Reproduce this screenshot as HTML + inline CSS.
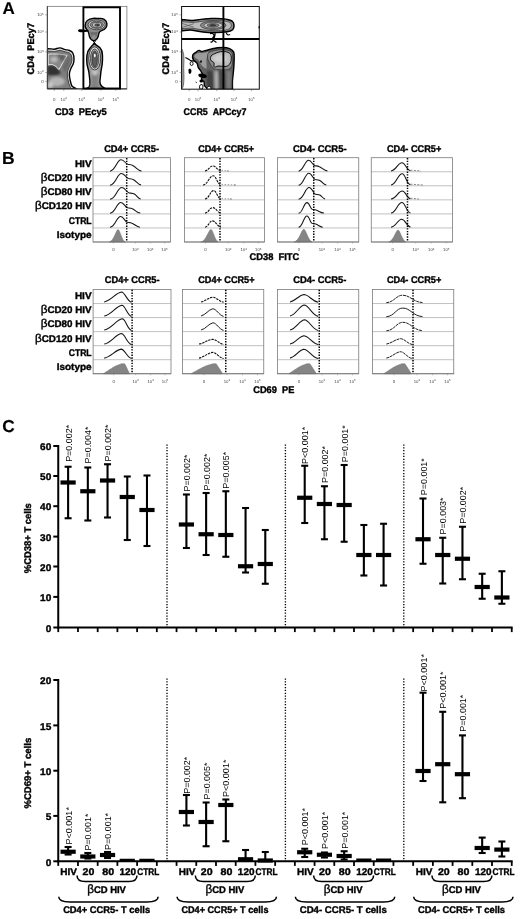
<!DOCTYPE html>
<html><head><meta charset="utf-8"><title>Figure</title>
<style>
html,body{margin:0;padding:0;background:#fff;}
svg{display:block;font-family:"Liberation Sans",sans-serif;text-rendering:geometricPrecision;}
</style></head><body>
<svg width="520" height="919" viewBox="0 0 520 919">
<defs>
<clipPath id="clip1"><rect x="47.3" y="6.3" width="79.6" height="82.7"/></clipPath>
<clipPath id="clip2"><rect x="181.6" y="6.5" width="77.7" height="82.8"/></clipPath>
<filter id="blurA" x="-5%" y="-5%" width="110%" height="110%"><feGaussianBlur stdDeviation="0.45"/></filter>
<filter id="blurB" x="-20%" y="-20%" width="140%" height="140%"><feGaussianBlur stdDeviation="0.9"/></filter>
<filter id="soft" x="0" y="0" width="100%" height="100%"><feGaussianBlur stdDeviation="0.3"/></filter>
</defs>
<rect width="520" height="919" fill="#fff"/>
<g filter="url(#soft)">
<text x="2.40" y="14.10" font-size="17" font-weight="bold" stroke="#000" stroke-width="0.15">A</text>
<text x="2.10" y="164.20" font-size="17.5" font-weight="bold" stroke="#000" stroke-width="0.15">B</text>
<text x="2.20" y="432.40" font-size="17.3" font-weight="bold" stroke="#000" stroke-width="0.15">C</text>
<g id="panelA">
<g clip-path="url(#clip1)"><g filter="url(#blurA)">
<path d="M47.3,48.6 C50,48.4 52,49.4 54.2,49.2 C56.4,49 58,47.8 60,47.9 C62,48 63.4,49.2 65.2,49.6 C66.8,50 68,49.9 69.4,50.5 C71,51.2 72.2,51.8 72.8,53 C73.8,55 74,57 74,58.9 C74,60.8 73.8,62.4 73.2,64 C72.6,65.6 71.6,66.8 71,68.2 C70.2,70 69.5,71.6 69.4,73.3 C69.3,75.2 69.5,76.8 69.8,78.4 C70.1,80.2 70.5,81.8 71,83.5 C71.3,84.5 71.5,85.3 71.9,86 C72.8,87 74,87.6 75.3,88.1 L76.4,88.9 L47.3,88.9 Z" fill="#e2e2e2" stroke="#000" stroke-width="1.4"/>
<path d="M47.3,51 C50,50.8 52,51.6 54.2,51.5 C56.4,51.4 58,50.3 60,50.3 C62,50.4 63.4,51.4 65.2,51.8 C66.8,52.2 68,52.2 69,52.7 C70.2,53.4 70.8,54 71.2,55 C71.8,56.6 72,57.8 72,59 C72,60.6 71.7,62 71.2,63.4 C70.6,65 69.6,66.2 69,67.6 C68.2,69.4 67.5,71.2 67.4,73.2 C67.3,75.2 67.5,76.8 67.8,78.6 C68.1,80.4 68.5,82 69,83.8 C69.5,85.6 70.4,87.2 71.4,88.9 L47.3,88.9 Z" fill="#7e7e7e" stroke="#1a1a1a" stroke-width="0.7"/>
<g filter="url(#blurB)">
<path d="M47.3,66 L52.5,65 L56,67 L58.8,70 L61,73 C58,76 53,75.4 47.3,75Z" fill="#333"/>
<ellipse cx="57" cy="81.6" rx="8" ry="4.6" fill="#b4b4b4"/>
<ellipse cx="50.4" cy="85" rx="3" ry="3" fill="#c6c6c6"/>
<path d="M63,66 C65,63 67.6,58 69.6,55 C70.6,58 70,62 68.6,65 C67.4,68 66,70 65,73 C64,71 63,68 63,66Z" fill="#676767"/>
</g>
<path d="M48.2,54.2 C54,53.6 61,54 67,55.4 C65.4,58 63.6,61 62,64 C61,66 60,68 58.9,69.6 C58,68.4 57,67.2 55.8,66.4 C54.6,65.6 53.6,64.8 52.4,64.6 C51,64.4 49.6,64.8 48.2,64.9Z" fill="#878787" stroke="#f2f2f2" stroke-width="0.9"/>
<g filter="url(#blurB)">
<ellipse cx="54" cy="59.4" rx="3.6" ry="2.8" fill="#b8b8b8"/>
<path d="M57,55 C60,54.6 64,55 66,56 C65,58 63.6,60 62.4,62 C61,60 59,57 57,55Z" fill="#5e5e5e"/>
</g>
<path d="M85.1,25.5 C85.1,21.5 88.6,18.9 93,18.4 C95.6,18.1 97.4,18.6 99.4,18.4 C102.6,18.1 106.4,19.6 106.9,23.6 C107.3,27 104.6,29.6 101.6,30.7 C99.8,31.4 99.2,32 99,33 C98.6,35.4 98.2,37.4 97,38.8 C96,40 95,40.7 93.8,40.7 C92.4,40.7 91.4,40 90.4,38.6 C89.4,37.2 89,35 88.7,33 C88.5,31.8 87.8,30.8 86.8,29.6 C85.8,28.4 85.1,27.2 85.1,25.5Z" fill="#8e8e8e" stroke="#000" stroke-width="1.4"/>
<path d="M90.4,31.6 C92,32.6 96,32.6 97.6,31.6 C97.4,34 96.8,36.6 95.8,38 C95,39 92.8,39 92,38 C91,36.6 90.6,34 90.4,31.6Z" fill="#6a6a6a" stroke="none"/>
<ellipse cx="93.9" cy="37" rx="1.7" ry="1.8" fill="#b6b6b6" filter="url(#blurB)"/>
<ellipse cx="96.6" cy="24.8" rx="8.6" ry="4.9" fill="#c6c6c6" stroke="#222" stroke-width="0.7"/>
<ellipse cx="96.8" cy="24.8" rx="6.6" ry="3.6" fill="#8a8a8a" stroke="#222" stroke-width="0.6"/>
<ellipse cx="97" cy="24.9" rx="4.6" ry="2.4" fill="#c8c8c8" stroke="#222" stroke-width="0.55"/>
<ellipse cx="97.2" cy="25" rx="2.6" ry="1.2" fill="#6a6a6a" stroke="#111" stroke-width="0.45"/>
<ellipse cx="97.6" cy="25" rx="1.1" ry="0.5" fill="#111"/>
<path d="M78.0,30.7 C78.0,29.3 80,29.2 82,29.4 C84,29.6 86,29.8 88.4,30 L88.4,31.6 C86,31.9 84,32.2 82,32.2 C80,32.2 78.0,32.1 78.0,30.7Z" fill="#000"/>
<path d="M92.8,40.6 L95.8,44.2 M95.8,40.6 L92.8,44.2" stroke="#000" stroke-width="1" fill="none"/>
<path d="M94.3,43.7 C96,44.8 98.6,46.4 100.2,48 C102,50 102.5,53 102.5,55.5 C102.6,58.6 102.6,61.4 102.2,64.2 C101.8,67.2 101,70 100.8,72.9 C100.6,76 100,79 99.9,81.6 C99.8,83.6 100.6,85.6 102.4,86.8 C103.6,87.6 104.8,88.2 105.6,88.9 L86.4,88.9 C87.2,88.2 88.4,87.6 89.2,86.6 C90.2,85.2 90,83.4 89.9,81.6 C89.8,78.8 89.3,75.8 89,72.9 C88.7,70 87.4,67 87,64.2 C86.6,61.4 86.7,58.4 86.9,55.5 C87.1,52.6 88.2,50 89.9,48.2 C91.2,46.6 92.8,44.8 94.3,43.7Z" fill="#9c9c9c" stroke="#000" stroke-width="1.4"/>
<path d="M91.4,74 C91.8,78 91.8,82 91.2,85 C90.6,87 90,88 89.6,88.9 L101.2,88.9 C100.4,88 99,87 98.4,85 C97.8,82 98,78 98.6,74 Z" fill="#828282" stroke="none" filter="url(#blurB)"/>
<ellipse cx="94.9" cy="72" rx="2.6" ry="3.4" fill="#c4c4c4" filter="url(#blurB)"/>
<ellipse cx="94.7" cy="58.4" rx="5.9" ry="11.6" fill="#e0e0e0" stroke="#111" stroke-width="0.75"/>
<ellipse cx="94.7" cy="58.6" rx="4.2" ry="9.6" fill="#a8a8a8" stroke="#111" stroke-width="0.65"/>
<ellipse cx="94.7" cy="59" rx="2.7" ry="8" fill="#5c5c5c" stroke="#111" stroke-width="0.5"/>
<ellipse cx="94.8" cy="55.6" rx="0.9" ry="1.8" fill="#fff"/>
</g></g>
<rect x="47.3" y="6.3" width="79.60" height="82.60" fill="none" stroke="#666" stroke-width="0.7"/>
<line x1="47.3" y1="88.9" x2="126.9" y2="88.9" stroke="#222" stroke-width="1"/>
<line x1="47.3" y1="6.3" x2="47.3" y2="88.9" stroke="#333" stroke-width="0.9"/>
<rect x="83.4" y="7.3" width="36.6" height="81.2" fill="none" stroke="#000" stroke-width="1.9"/>
<line x1="54.3" y1="88.9" x2="54.3" y2="90.9" stroke="#555" stroke-width="0.5"/>
<line x1="63.8" y1="88.9" x2="63.8" y2="90.9" stroke="#555" stroke-width="0.5"/>
<line x1="81.8" y1="88.9" x2="81.8" y2="90.9" stroke="#555" stroke-width="0.5"/>
<line x1="100.9" y1="88.9" x2="100.9" y2="90.9" stroke="#555" stroke-width="0.5"/>
<line x1="115.7" y1="88.9" x2="115.7" y2="90.9" stroke="#555" stroke-width="0.5"/>
<line x1="45.3" y1="14.8" x2="47.3" y2="14.8" stroke="#555" stroke-width="0.5"/>
<line x1="45.3" y1="32" x2="47.3" y2="32" stroke="#555" stroke-width="0.5"/>
<line x1="45.3" y1="51.8" x2="47.3" y2="51.8" stroke="#555" stroke-width="0.5"/>
<line x1="45.3" y1="72.5" x2="47.3" y2="72.5" stroke="#555" stroke-width="0.5"/>
<line x1="45.3" y1="81.4" x2="47.3" y2="81.4" stroke="#555" stroke-width="0.5"/>
<text x="54.30" y="100.60" font-size="4.4" text-anchor="middle" fill="#4a4a4a">0</text>
<text x="63.80" y="100.60" font-size="4.3" text-anchor="middle" fill="#4a4a4a">10<tspan dy="-1.5" font-size="3">2</tspan></text>
<text x="81.80" y="100.60" font-size="4.3" text-anchor="middle" fill="#4a4a4a">10<tspan dy="-1.5" font-size="3">3</tspan></text>
<text x="100.90" y="100.60" font-size="4.3" text-anchor="middle" fill="#4a4a4a">10<tspan dy="-1.5" font-size="3">4</tspan></text>
<text x="115.70" y="100.60" font-size="4.3" text-anchor="middle" fill="#4a4a4a">10<tspan dy="-1.5" font-size="3">5</tspan></text>
<text x="43.60" y="16.00" font-size="4.3" text-anchor="end" fill="#4a4a4a">10<tspan dy="-1.5" font-size="3">5</tspan></text>
<text x="43.60" y="33.20" font-size="4.3" text-anchor="end" fill="#4a4a4a">10<tspan dy="-1.5" font-size="3">4</tspan></text>
<text x="43.60" y="53.00" font-size="4.3" text-anchor="end" fill="#4a4a4a">10<tspan dy="-1.5" font-size="3">3</tspan></text>
<text x="43.60" y="73.70" font-size="4.3" text-anchor="end" fill="#4a4a4a">10<tspan dy="-1.5" font-size="3">2</tspan></text>
<text x="43.60" y="82.60" font-size="4.4" text-anchor="end" fill="#4a4a4a">0</text>
<text x="34.00" y="74.50" font-size="9.7" font-weight="bold" stroke="#000" stroke-width="0.38" textLength="51.60" lengthAdjust="spacingAndGlyphs" transform="rotate(-90 34.00 74.50)">CD4  PEcy7</text>
<text x="55.00" y="115.30" font-size="9.7" font-weight="bold" stroke="#000" stroke-width="0.38" textLength="51.80" lengthAdjust="spacingAndGlyphs">CD3  PEcy5</text>
<g clip-path="url(#clip2)"><g filter="url(#blurA)">
<path d="M181.6,19.4 C185,19.8 189,20.8 193,20.4 C198,19.8 204,18.8 211,18.5 C219,18.2 228,18.6 232,21 C234.6,22.8 234.6,27.4 232.6,29.8 C230,32.6 222,32.6 214,32.5 C206,32.4 199,31.6 194,30.4 C190,29.6 186,30.4 181.6,30.8 Z" fill="#8d8d8d" stroke="#000" stroke-width="1.5"/>
<path d="M181.6,21.6 C186,22 191,22.8 196,22.2 C201,21.6 206,20.6 212,20.5 C219,20.4 227,20.8 230,22.6 C231.8,24 231.6,26.8 230,28.4 C227,30.6 220,30.7 213,30.6 C206,30.5 200,29.6 195,28.6 C190,27.6 186,28.4 181.6,28.6 Z" fill="#bcbcbc" stroke="#222" stroke-width="0.6"/>
<path d="M182,23.4 C186,24.6 190,26.4 194,27.2 M182,27.4 C186,26.6 190,24.6 194,23.6" stroke="#444" stroke-width="0.6" fill="none"/>
<ellipse cx="213.2" cy="25.3" rx="12.8" ry="4.2" fill="#8c8c8c" stroke="#222" stroke-width="0.6"/>
<ellipse cx="213.2" cy="25.3" rx="9.4" ry="3" fill="#c8c8c8" stroke="#222" stroke-width="0.6"/>
<ellipse cx="213" cy="25.3" rx="6" ry="1.9" fill="#7e7e7e" stroke="#222" stroke-width="0.5"/>
<ellipse cx="212.8" cy="25.3" rx="3" ry="0.8" fill="#3c3c3c" stroke="#111" stroke-width="0.4"/>
<path d="M210,33.6 C212,33 213.6,33.8 214,35 C214.4,36.6 212.2,37.4 212.4,39 C212.6,40.6 215.4,41 216.4,42.6 M215,33 C215.4,35 214.2,38 213,40.4 C212.4,41.8 211.2,42.6 210.6,41.6" fill="none" stroke="#000" stroke-width="1.2"/>
<path d="M226.2,32.6 C226.6,34.6 228.4,35.8 230,34.4" fill="none" stroke="#000" stroke-width="1.1"/>
<path d="M192.7,55 C193.6,53.4 195,52.8 196.2,52.1 C197.4,51.2 198,50.4 199.2,50.4 C200.4,50.4 200.6,51.6 201.6,51.5 C202.8,51.4 203.6,51 204.8,50.8 C207.4,50.2 210,49.2 212.3,48.7 C215.6,48 219,47.5 222.7,47.5 C225.2,47.5 227.6,47.8 229.6,48.7 C231.6,49.6 233,50.6 233.7,52.1 C234.4,54 234.3,56.2 234.2,58.5 C234.1,62 234,65.4 233.7,68.8 C233.4,72.6 232.8,76.6 232.5,80.4 C232.3,83.4 232.5,86.2 232.5,89.2 L207.2,89.2 C206.8,87.6 205.4,87 204.6,85.8 C203.8,84.6 204.6,83 204,81.8 C203.4,80.6 201.6,80.6 201.4,79.2 C201.2,77.8 203,77 203,75.6 C203,74.2 202,73 201.2,71.6 C200.4,70.2 199.2,69 198.4,67.6 C197.6,66.2 197.8,64.6 197,63.2 C196.2,61.8 194.4,61.6 193.6,60.2 C192.8,58.8 192.2,56.6 192.7,55 Z" fill="#626262" stroke="#000" stroke-width="1.4"/>
<path d="M194.6,55.4 C195.6,53.6 198,52.6 200,53 C203,53.6 206,52.4 209,51.6 C208,54 206.6,57 206.4,60 C206.2,63 207,66 206.4,69 C205,68 203,67 201.6,65.2 C200,63.2 199.6,61 198,59.6 C196.6,58.4 194,57.4 194.6,55.4Z" fill="#9c9c9c" stroke="none"/>
<ellipse cx="201" cy="61.6" rx="0.9" ry="1.3" fill="#111"/>
<path d="M208.6,52.6 C212,50.8 217,49.8 222,49.6 C226,49.5 230,50.2 231.8,52.6 C233,54.6 232.8,60 232.4,64 C232,67.6 230,69.4 227,69.8 C223,70.2 219,69.6 216,69.4 C213.6,69.2 212,67 210.6,64.6 C209.2,62 207.4,59.6 207.6,57 C207.8,55 207.6,53.4 208.6,52.6Z" fill="#8a8a8a" stroke="#222" stroke-width="0.6"/>
<path d="M210.6,57.3 C211,55.2 212.8,54.4 214.6,53.8 C217,52.6 220,51.5 222.7,51.5 C225.4,51.5 228,52 229.6,53.3 C231,54.6 231.4,56.4 231.3,58.5 C231.2,60.8 230.8,62.8 229.6,64.2 C228.4,65.6 226.8,66.3 225,66.5 C222.6,66.7 220.4,65.8 218,66 C216.6,66.2 215.8,67.3 214.6,67 C213.4,66.6 214.4,64.4 214,63 C213.6,61.8 212.2,61.6 211.2,60.8 C210.4,60 210.4,58.6 210.6,57.3Z" fill="#bdbdbd" stroke="#000" stroke-width="0.9"/>
<path d="M214,57.4 C215,55.4 218,54.6 221,54.4 C224,54.2 226.4,55.2 226.8,57.6 C227.2,60.2 225.6,62.4 223,62.6 C220.4,62.8 218,62 216,61.4 C214.6,60.8 213.4,59 214,57.4Z" fill="#d0d0d0" stroke="none" filter="url(#blurB)"/>
<g filter="url(#blurB)">
<path d="M207.6,70.6 C209,69.6 211.6,70.4 212.6,72 C213.6,74 213.4,80 213.6,84 C213.7,86 213.6,88 213.6,89.2 L208.6,89.2 C208.6,87 207,86 206.8,84.4 C206.6,82.6 206.2,80 206.6,77.4 C207,75 206.4,72 207.6,70.6Z" fill="#404040" stroke="none"/>
<path d="M214.6,71 C215.6,70.2 217.2,70.6 217.8,72 C218.4,76 218.2,84 218.2,89.2 L214.8,89.2 C214.8,84 214.2,76 214.6,71Z" fill="#b0b0b0" stroke="none"/>
<path d="M219,70.6 C221,70 224,70.4 225,72 C226,76 225.6,84 225.6,89.2 L219.2,89.2 C219.2,84 218.6,76 219,70.6Z" fill="#474747" stroke="none"/>
<path d="M226.6,70.6 C228.6,70.2 230.6,71 231,73 C231.4,78 230.8,85 230.8,89.2 L227,89.2 C227,85 226.4,76 226.6,70.6Z" fill="#7c7c7c" stroke="none"/>
</g>
<path d="M198.6,74 C200.6,73 203.6,73.4 205.6,74.6 C207.4,75.6 207.2,77.6 205.4,78 C203.4,78.4 202.6,77.6 200.8,77.4 C199,77.2 197.8,75.4 198.6,74Z" fill="#000"/>
<path d="M200,80 C201.4,79.4 203,80 203,81.2 C203,82.4 201.4,82.8 200.2,82.2 C199.4,81.6 199.2,80.6 200,80Z" fill="#000"/>
<path d="M188.8,69 C189.8,68.2 191.2,68.8 191.4,70.2 C191.6,71.8 191.2,73.6 190,73.8 C188.8,74 188.4,72.6 188.6,71.2 C188.6,70.2 188.2,69.6 188.8,69Z" fill="#000"/>
<ellipse cx="191.6" cy="63.6" rx="1.5" ry="1.9" fill="#fff" stroke="#000" stroke-width="0.9"/>
<path d="M185.4,57.6 C187.4,58.6 189.4,59.6 190.6,60.6 C192,61 193.4,60.8 194.6,61.2" fill="none" stroke="#000" stroke-width="1.1"/>
<path d="M195.6,82 L196.8,82.6" stroke="#000" stroke-width="0.9"/>
<path d="M200.2,85 C201.4,84 203,84.6 203,86 C203,87.2 202.6,88.2 202.2,89.2 L200,89.2 C199.4,87.6 199.4,85.8 200.2,85Z" fill="#fff" stroke="#000" stroke-width="1"/>
<path d="M207.6,87 C208.6,86 210.4,86.2 210.8,87.6 C211,88.2 210.8,88.8 210.4,89.2 L207.4,89.2 C207,88.4 207,87.6 207.6,87Z" fill="#fff" stroke="#000" stroke-width="0.9"/>
<path d="M181.6,49 C183.6,51 184.4,58 183.8,64 C183.4,70 184.6,78 183.6,84 C183.2,86.6 182.8,88 181.6,89.2 Z" fill="#aaa" stroke="#333" stroke-width="0.6"/>
</g></g>
<rect x="181.6" y="6.5" width="77.70" height="82.70" fill="none" stroke="#111" stroke-width="1"/>
<line x1="223.4" y1="6.5" x2="223.4" y2="89.2" stroke="#000" stroke-width="1.9"/>
<line x1="181.6" y1="39" x2="259.3" y2="39" stroke="#000" stroke-width="1.9"/>
<rect x="258.6" y="26" width="1" height="2.6" fill="#000"/>
<line x1="189.2" y1="89.2" x2="189.2" y2="91.2" stroke="#555" stroke-width="0.5"/>
<line x1="198" y1="89.2" x2="198" y2="91.2" stroke="#555" stroke-width="0.5"/>
<line x1="216.7" y1="89.2" x2="216.7" y2="91.2" stroke="#555" stroke-width="0.5"/>
<line x1="234" y1="89.2" x2="234" y2="91.2" stroke="#555" stroke-width="0.5"/>
<line x1="251.4" y1="89.2" x2="251.4" y2="91.2" stroke="#555" stroke-width="0.5"/>
<line x1="179.6" y1="14.8" x2="181.6" y2="14.8" stroke="#555" stroke-width="0.5"/>
<line x1="179.6" y1="32" x2="181.6" y2="32" stroke="#555" stroke-width="0.5"/>
<line x1="179.6" y1="51.8" x2="181.6" y2="51.8" stroke="#555" stroke-width="0.5"/>
<line x1="179.6" y1="72.5" x2="181.6" y2="72.5" stroke="#555" stroke-width="0.5"/>
<line x1="179.6" y1="81.4" x2="181.6" y2="81.4" stroke="#555" stroke-width="0.5"/>
<text x="189.20" y="100.60" font-size="4.4" text-anchor="middle" fill="#4a4a4a">0</text>
<text x="198.00" y="100.60" font-size="4.3" text-anchor="middle" fill="#4a4a4a">10<tspan dy="-1.5" font-size="3">2</tspan></text>
<text x="216.70" y="100.60" font-size="4.3" text-anchor="middle" fill="#4a4a4a">10<tspan dy="-1.5" font-size="3">3</tspan></text>
<text x="234.00" y="100.60" font-size="4.3" text-anchor="middle" fill="#4a4a4a">10<tspan dy="-1.5" font-size="3">4</tspan></text>
<text x="251.40" y="100.60" font-size="4.3" text-anchor="middle" fill="#4a4a4a">10<tspan dy="-1.5" font-size="3">5</tspan></text>
<text x="177.80" y="16.00" font-size="4.3" text-anchor="end" fill="#4a4a4a">10<tspan dy="-1.5" font-size="3">5</tspan></text>
<text x="177.80" y="33.20" font-size="4.3" text-anchor="end" fill="#4a4a4a">10<tspan dy="-1.5" font-size="3">4</tspan></text>
<text x="177.80" y="53.00" font-size="4.3" text-anchor="end" fill="#4a4a4a">10<tspan dy="-1.5" font-size="3">3</tspan></text>
<text x="177.80" y="73.70" font-size="4.3" text-anchor="end" fill="#4a4a4a">10<tspan dy="-1.5" font-size="3">2</tspan></text>
<text x="177.80" y="82.60" font-size="4.4" text-anchor="end" fill="#4a4a4a">0</text>
<text x="168.70" y="74.50" font-size="9.7" font-weight="bold" stroke="#000" stroke-width="0.38" textLength="51.60" lengthAdjust="spacingAndGlyphs" transform="rotate(-90 168.70 74.50)">CD4  PEcy7</text>
<text x="183.60" y="115.10" font-size="9.7" font-weight="bold" stroke="#000" stroke-width="0.38" textLength="62.80" lengthAdjust="spacingAndGlyphs">CCR5  APCcy7</text>
</g>
<g id="panelB">
<text x="91.60" y="166.60" font-size="9.7" font-weight="bold" stroke="#000" stroke-width="0.38" text-anchor="end" textLength="16.70" lengthAdjust="spacingAndGlyphs">HIV</text>
<text x="91.60" y="180.87" font-size="9.7" font-weight="bold" stroke="#000" stroke-width="0.38" text-anchor="end" textLength="50.90" lengthAdjust="spacingAndGlyphs"><tspan font-weight="normal" font-size="11.5">β</tspan>CD20 HIV</text>
<text x="91.60" y="195.14" font-size="9.7" font-weight="bold" stroke="#000" stroke-width="0.38" text-anchor="end" textLength="50.90" lengthAdjust="spacingAndGlyphs"><tspan font-weight="normal" font-size="11.5">β</tspan>CD80 HIV</text>
<text x="91.60" y="209.41" font-size="9.7" font-weight="bold" stroke="#000" stroke-width="0.38" text-anchor="end" textLength="56.60" lengthAdjust="spacingAndGlyphs"><tspan font-weight="normal" font-size="11.5">β</tspan>CD120 HIV</text>
<text x="91.60" y="223.68" font-size="9.7" font-weight="bold" stroke="#000" stroke-width="0.38" text-anchor="end" textLength="22.90" lengthAdjust="spacingAndGlyphs">CTRL</text>
<text x="91.60" y="237.95" font-size="9.7" font-weight="bold" stroke="#000" stroke-width="0.38" text-anchor="end" textLength="34.90" lengthAdjust="spacingAndGlyphs">Isotype</text>
<text x="104.20" y="151.90" font-size="9.7" font-weight="bold" stroke="#000" stroke-width="0.38" textLength="54.80" lengthAdjust="spacingAndGlyphs">CD4+ CCR5-</text>
<line x1="93.0" y1="171.75" x2="170.5" y2="171.75" stroke="#a6a6a6" stroke-width="0.7"/>
<line x1="93.0" y1="185.80" x2="170.5" y2="185.80" stroke="#a6a6a6" stroke-width="0.7"/>
<line x1="93.0" y1="199.85" x2="170.5" y2="199.85" stroke="#a6a6a6" stroke-width="0.7"/>
<line x1="93.0" y1="213.90" x2="170.5" y2="213.90" stroke="#a6a6a6" stroke-width="0.7"/>
<line x1="93.0" y1="227.95" x2="170.5" y2="227.95" stroke="#a6a6a6" stroke-width="0.7"/>
<path d="M110.00,171.15 C115.50,170.75 116.82,159.75 121.00,159.75 C124.30,159.75 125.40,163.83 127.82,164.31 C130.02,164.67 131.12,164.55 132.77,165.51 C136.26,167.19 137.57,170.55 141.50,170.95" fill="none" stroke="#141414" stroke-width="1.05"/>
<path d="M110.00,185.20 C115.70,184.80 117.07,173.40 121.40,173.40 C124.82,173.40 125.96,178.03 128.47,178.50 C130.75,178.85 131.89,178.73 133.60,179.67 C136.60,181.32 137.72,184.56 141.10,185.00" fill="none" stroke="#141414" stroke-width="1.05"/>
<path d="M110.00,199.25 C115.90,198.85 117.32,187.45 121.80,187.45 C125.34,187.45 126.52,192.48 129.12,192.93 C131.48,193.27 132.66,193.15 134.43,194.05 C136.94,195.61 137.88,198.61 140.70,199.05" fill="none" stroke="#141414" stroke-width="1.05"/>
<path d="M110.00,213.30 C115.40,212.90 116.70,202.40 120.80,202.40 C124.04,202.40 125.12,207.45 127.50,207.84 C129.66,208.13 130.74,208.03 132.36,208.82 C135.53,210.19 136.73,212.75 140.30,213.10" fill="none" stroke="#141414" stroke-width="1.05"/>
<path d="M110.00,227.35 C115.30,226.95 116.57,216.45 120.60,216.45 C123.78,216.45 124.84,221.88 127.17,222.25 C129.29,222.52 130.35,222.43 131.94,223.17 C135.13,224.45 136.32,226.80 139.90,227.15" fill="none" stroke="#141414" stroke-width="1.05"/>
<path d="M109.40,242.00 C114.10,240.80 116.20,229.50 118.00,229.50 C119.92,229.50 121.52,240.00 125.20,242.00 Z" fill="#858585" stroke="#777" stroke-width="0.5"/>
<rect x="93.0" y="157.7" width="77.50" height="84.30" fill="none" stroke="#7a7a7a" stroke-width="0.8"/>
<line x1="93.0" y1="242.0" x2="170.5" y2="242.0" stroke="#666" stroke-width="0.6"/>
<line x1="126.7" y1="158.00" x2="126.7" y2="241.70" stroke="#000" stroke-width="1.5" stroke-dasharray="1.4 1.3"/>
<text x="113.41" y="251.20" font-size="4.4" text-anchor="middle" fill="#4a4a4a">0</text>
<line x1="113.41" y1="242.0" x2="113.41" y2="243.6" stroke="#777" stroke-width="0.4"/>
<text x="135.38" y="251.20" font-size="4.3" text-anchor="middle" fill="#4a4a4a">10<tspan dy="-1.5" font-size="3">2</tspan></text>
<line x1="135.38" y1="242.0" x2="135.38" y2="243.6" stroke="#777" stroke-width="0.4"/>
<text x="150.29" y="251.20" font-size="4.3" text-anchor="middle" fill="#4a4a4a">10<tspan dy="-1.5" font-size="3">4</tspan></text>
<line x1="150.29" y1="242.0" x2="150.29" y2="243.6" stroke="#777" stroke-width="0.4"/>
<text x="164.52" y="251.20" font-size="4.3" text-anchor="middle" fill="#4a4a4a">10<tspan dy="-1.5" font-size="3">5</tspan></text>
<line x1="164.52" y1="242.0" x2="164.52" y2="243.6" stroke="#777" stroke-width="0.4"/>
<text x="198.30" y="151.90" font-size="9.7" font-weight="bold" stroke="#000" stroke-width="0.38" textLength="55.70" lengthAdjust="spacingAndGlyphs">CD4+ CCR5+</text>
<line x1="184.5" y1="171.75" x2="264.5" y2="171.75" stroke="#a6a6a6" stroke-width="0.7"/>
<line x1="184.5" y1="185.80" x2="264.5" y2="185.80" stroke="#a6a6a6" stroke-width="0.7"/>
<line x1="184.5" y1="199.85" x2="264.5" y2="199.85" stroke="#a6a6a6" stroke-width="0.7"/>
<line x1="184.5" y1="213.90" x2="264.5" y2="213.90" stroke="#a6a6a6" stroke-width="0.7"/>
<line x1="184.5" y1="227.95" x2="264.5" y2="227.95" stroke="#a6a6a6" stroke-width="0.7"/>
<path d="M205.00,170.95 C208.90,170.35 209.68,165.95 212.80,165.95 C216.08,165.95 216.90,170.15 221.00,170.75" fill="none" stroke="#111" stroke-width="1.1" stroke-dasharray="2.4 0.9"/>
<path d="M221.5,170.35 L228,170.85" stroke="#777" stroke-width="0.7" stroke-dasharray="1.5 1.6" fill="none"/>
<circle cx="228" cy="170.85" r="0.7" fill="#666"/>
<path d="M203.00,185.00 C208.10,184.40 209.12,175.80 213.20,175.80 C216.32,175.80 217.10,184.20 221.00,184.80" fill="none" stroke="#111" stroke-width="1.1" stroke-dasharray="2.4 0.9"/>
<path d="M221.5,184.40 L235,184.90" stroke="#777" stroke-width="0.7" stroke-dasharray="1.5 1.6" fill="none"/>
<circle cx="235" cy="184.90" r="0.7" fill="#666"/>
<path d="M205.00,199.05 C209.30,198.45 210.16,190.65 213.60,190.65 C216.56,190.65 217.30,198.25 221.00,198.85" fill="none" stroke="#111" stroke-width="1.1" stroke-dasharray="2.4 0.9"/>
<path d="M221.5,198.45 L231,198.95" stroke="#777" stroke-width="0.7" stroke-dasharray="1.5 1.6" fill="none"/>
<circle cx="231" cy="198.95" r="0.7" fill="#666"/>
<path d="M205.00,213.10 C208.80,212.50 209.56,207.60 212.60,207.60 C215.96,207.60 216.80,212.30 221.00,212.90" fill="none" stroke="#111" stroke-width="1.1" stroke-dasharray="2.4 0.9"/>
<path d="M205.00,227.15 C208.70,226.55 209.44,220.85 212.40,220.85 C215.84,220.85 216.70,226.35 221.00,226.95" fill="none" stroke="#111" stroke-width="1.1" stroke-dasharray="2.4 0.9"/>
<path d="M200.90,242.00 C206.12,240.80 208.75,229.40 211.00,229.40 C212.95,229.40 214.57,240.00 218.30,242.00 Z" fill="#858585" stroke="#777" stroke-width="0.5"/>
<rect x="184.5" y="157.7" width="80.00" height="84.30" fill="none" stroke="#7a7a7a" stroke-width="0.8"/>
<line x1="184.5" y1="242.0" x2="264.5" y2="242.0" stroke="#666" stroke-width="0.6"/>
<line x1="220.0" y1="158.00" x2="220.0" y2="241.70" stroke="#000" stroke-width="1.5" stroke-dasharray="1.4 1.3"/>
<text x="205.56" y="251.20" font-size="4.4" text-anchor="middle" fill="#4a4a4a">0</text>
<line x1="205.56" y1="242.0" x2="205.56" y2="243.6" stroke="#777" stroke-width="0.4"/>
<text x="228.25" y="251.20" font-size="4.3" text-anchor="middle" fill="#4a4a4a">10<tspan dy="-1.5" font-size="3">2</tspan></text>
<line x1="228.25" y1="242.0" x2="228.25" y2="243.6" stroke="#777" stroke-width="0.4"/>
<text x="243.64" y="251.20" font-size="4.3" text-anchor="middle" fill="#4a4a4a">10<tspan dy="-1.5" font-size="3">4</tspan></text>
<line x1="243.64" y1="242.0" x2="243.64" y2="243.6" stroke="#777" stroke-width="0.4"/>
<text x="258.32" y="251.20" font-size="4.3" text-anchor="middle" fill="#4a4a4a">10<tspan dy="-1.5" font-size="3">5</tspan></text>
<line x1="258.32" y1="242.0" x2="258.32" y2="243.6" stroke="#777" stroke-width="0.4"/>
<text x="293.00" y="151.90" font-size="9.7" font-weight="bold" stroke="#000" stroke-width="0.38" textLength="53.60" lengthAdjust="spacingAndGlyphs">CD4- CCR5-</text>
<line x1="277.5" y1="171.75" x2="358.75" y2="171.75" stroke="#a6a6a6" stroke-width="0.7"/>
<line x1="277.5" y1="185.80" x2="358.75" y2="185.80" stroke="#a6a6a6" stroke-width="0.7"/>
<line x1="277.5" y1="199.85" x2="358.75" y2="199.85" stroke="#a6a6a6" stroke-width="0.7"/>
<line x1="277.5" y1="213.90" x2="358.75" y2="213.90" stroke="#a6a6a6" stroke-width="0.7"/>
<line x1="277.5" y1="227.95" x2="358.75" y2="227.95" stroke="#a6a6a6" stroke-width="0.7"/>
<path d="M298.60,171.15 C303.60,170.75 304.80,160.25 308.60,160.25 C311.60,160.25 312.60,165.30 314.80,165.69 C316.80,165.98 317.80,165.88 319.30,166.67 C322.58,168.04 323.81,170.60 327.50,170.95" fill="none" stroke="#141414" stroke-width="1.05"/>
<path d="M298.60,185.20 C303.72,184.80 304.95,173.20 308.84,173.20 C311.91,173.20 312.94,179.15 315.19,179.55 C317.24,179.85 318.26,179.75 319.80,180.56 C322.40,181.97 323.37,184.54 326.30,185.00" fill="none" stroke="#141414" stroke-width="1.05"/>
<path d="M298.60,199.25 C303.84,198.85 305.10,187.45 309.08,187.45 C312.22,187.45 313.27,193.96 315.58,194.31 C317.67,194.58 318.72,194.49 320.29,195.21 C322.22,196.46 322.94,198.61 325.10,199.05" fill="none" stroke="#141414" stroke-width="1.05"/>
<path d="M298.60,213.30 C302.79,212.90 303.80,202.60 306.98,202.60 C309.49,202.60 310.33,208.98 312.18,209.28 C313.85,209.50 314.69,209.43 315.95,210.02 C319.13,211.07 320.32,212.77 323.90,213.10" fill="none" stroke="#141414" stroke-width="1.05"/>
<path d="M298.60,227.35 C302.73,226.95 303.72,215.95 306.86,215.95 C309.34,215.95 310.16,223.04 311.98,223.34 C313.63,223.56 314.46,223.49 315.70,224.08 C318.50,225.12 319.55,226.75 322.70,227.15" fill="none" stroke="#141414" stroke-width="1.05"/>
<path d="M294.15,242.00 C299.20,240.80 301.65,229.30 303.75,229.30 C306.00,229.30 307.88,240.00 312.05,242.00 Z" fill="#858585" stroke="#777" stroke-width="0.5"/>
<rect x="277.5" y="157.7" width="81.25" height="84.30" fill="none" stroke="#7a7a7a" stroke-width="0.8"/>
<line x1="277.5" y1="242.0" x2="358.75" y2="242.0" stroke="#666" stroke-width="0.6"/>
<line x1="313.75" y1="158.00" x2="313.75" y2="241.70" stroke="#000" stroke-width="1.5" stroke-dasharray="1.4 1.3"/>
<text x="298.89" y="251.20" font-size="4.4" text-anchor="middle" fill="#4a4a4a">0</text>
<line x1="298.89" y1="242.0" x2="298.89" y2="243.6" stroke="#777" stroke-width="0.4"/>
<text x="321.93" y="251.20" font-size="4.3" text-anchor="middle" fill="#4a4a4a">10<tspan dy="-1.5" font-size="3">2</tspan></text>
<line x1="321.93" y1="242.0" x2="321.93" y2="243.6" stroke="#777" stroke-width="0.4"/>
<text x="337.56" y="251.20" font-size="4.3" text-anchor="middle" fill="#4a4a4a">10<tspan dy="-1.5" font-size="3">4</tspan></text>
<line x1="337.56" y1="242.0" x2="337.56" y2="243.6" stroke="#777" stroke-width="0.4"/>
<text x="352.48" y="251.20" font-size="4.3" text-anchor="middle" fill="#4a4a4a">10<tspan dy="-1.5" font-size="3">5</tspan></text>
<line x1="352.48" y1="242.0" x2="352.48" y2="243.6" stroke="#777" stroke-width="0.4"/>
<text x="387.00" y="151.90" font-size="9.7" font-weight="bold" stroke="#000" stroke-width="0.38" textLength="54.25" lengthAdjust="spacingAndGlyphs">CD4- CCR5+</text>
<line x1="371.25" y1="171.75" x2="452.5" y2="171.75" stroke="#a6a6a6" stroke-width="0.7"/>
<line x1="371.25" y1="185.80" x2="452.5" y2="185.80" stroke="#a6a6a6" stroke-width="0.7"/>
<line x1="371.25" y1="199.85" x2="452.5" y2="199.85" stroke="#a6a6a6" stroke-width="0.7"/>
<line x1="371.25" y1="213.90" x2="452.5" y2="213.90" stroke="#a6a6a6" stroke-width="0.7"/>
<line x1="371.25" y1="227.95" x2="452.5" y2="227.95" stroke="#a6a6a6" stroke-width="0.7"/>
<path d="M391.00,170.95 C396.50,170.35 397.60,162.75 402.00,162.75 C405.40,162.75 406.25,170.15 410.50,170.75" fill="none" stroke="#141414" stroke-width="1.05"/>
<path d="M410.5,170.15 L421,170.95" stroke="#666" stroke-width="0.8" stroke-dasharray="2 1.4" fill="none"/>
<path d="M391.00,185.00 C396.60,184.40 397.72,173.80 402.20,173.80 C405.52,173.80 406.35,184.20 410.50,184.80" fill="none" stroke="#141414" stroke-width="1.05"/>
<path d="M410.5,184.20 L423,185.00" stroke="#666" stroke-width="0.8" stroke-dasharray="2 1.4" fill="none"/>
<path d="M391.00,199.05 C396.70,198.45 397.84,191.05 402.40,191.05 C405.64,191.05 406.45,198.25 410.50,198.85" fill="none" stroke="#141414" stroke-width="1.05"/>
<path d="M410.5,198.25 L419,199.05" stroke="#666" stroke-width="0.8" stroke-dasharray="2 1.4" fill="none"/>
<path d="M391.00,213.10 C396.45,212.50 397.54,202.40 401.90,202.40 C405.34,202.40 406.20,212.30 410.50,212.90" fill="none" stroke="#141414" stroke-width="1.05"/>
<path d="M391.00,227.15 C396.40,226.55 397.48,219.15 401.80,219.15 C405.28,219.15 406.15,226.35 410.50,226.95" fill="none" stroke="#141414" stroke-width="1.05"/>
<path d="M388.65,242.00 C393.61,240.80 395.98,230.00 398.00,230.00 C400.10,230.00 401.85,240.00 405.80,242.00 Z" fill="#858585" stroke="#777" stroke-width="0.5"/>
<rect x="371.25" y="157.7" width="81.25" height="84.30" fill="none" stroke="#7a7a7a" stroke-width="0.8"/>
<line x1="371.25" y1="242.0" x2="452.5" y2="242.0" stroke="#666" stroke-width="0.6"/>
<line x1="407.5" y1="158.00" x2="407.5" y2="241.70" stroke="#000" stroke-width="1.5" stroke-dasharray="1.4 1.3"/>
<text x="392.64" y="251.20" font-size="4.4" text-anchor="middle" fill="#4a4a4a">0</text>
<line x1="392.64" y1="242.0" x2="392.64" y2="243.6" stroke="#777" stroke-width="0.4"/>
<text x="415.68" y="251.20" font-size="4.3" text-anchor="middle" fill="#4a4a4a">10<tspan dy="-1.5" font-size="3">2</tspan></text>
<line x1="415.68" y1="242.0" x2="415.68" y2="243.6" stroke="#777" stroke-width="0.4"/>
<text x="431.31" y="251.20" font-size="4.3" text-anchor="middle" fill="#4a4a4a">10<tspan dy="-1.5" font-size="3">4</tspan></text>
<line x1="431.31" y1="242.0" x2="431.31" y2="243.6" stroke="#777" stroke-width="0.4"/>
<text x="446.23" y="251.20" font-size="4.3" text-anchor="middle" fill="#4a4a4a">10<tspan dy="-1.5" font-size="3">5</tspan></text>
<line x1="446.23" y1="242.0" x2="446.23" y2="243.6" stroke="#777" stroke-width="0.4"/>
<text x="91.60" y="298.80" font-size="9.7" font-weight="bold" stroke="#000" stroke-width="0.38" text-anchor="end" textLength="16.70" lengthAdjust="spacingAndGlyphs">HIV</text>
<text x="91.60" y="313.07" font-size="9.7" font-weight="bold" stroke="#000" stroke-width="0.38" text-anchor="end" textLength="50.90" lengthAdjust="spacingAndGlyphs"><tspan font-weight="normal" font-size="11.5">β</tspan>CD20 HIV</text>
<text x="91.60" y="327.34" font-size="9.7" font-weight="bold" stroke="#000" stroke-width="0.38" text-anchor="end" textLength="50.90" lengthAdjust="spacingAndGlyphs"><tspan font-weight="normal" font-size="11.5">β</tspan>CD80 HIV</text>
<text x="91.60" y="341.61" font-size="9.7" font-weight="bold" stroke="#000" stroke-width="0.38" text-anchor="end" textLength="56.60" lengthAdjust="spacingAndGlyphs"><tspan font-weight="normal" font-size="11.5">β</tspan>CD120 HIV</text>
<text x="91.60" y="355.88" font-size="9.7" font-weight="bold" stroke="#000" stroke-width="0.38" text-anchor="end" textLength="22.90" lengthAdjust="spacingAndGlyphs">CTRL</text>
<text x="91.60" y="370.15" font-size="9.7" font-weight="bold" stroke="#000" stroke-width="0.38" text-anchor="end" textLength="34.90" lengthAdjust="spacingAndGlyphs">Isotype</text>
<text x="104.80" y="283.30" font-size="9.7" font-weight="bold" stroke="#000" stroke-width="0.38" textLength="54.80" lengthAdjust="spacingAndGlyphs">CD4+ CCR5-</text>
<line x1="93.1" y1="303.54" x2="171.0" y2="303.54" stroke="#a6a6a6" stroke-width="0.7"/>
<line x1="93.1" y1="317.58" x2="171.0" y2="317.58" stroke="#a6a6a6" stroke-width="0.7"/>
<line x1="93.1" y1="331.62" x2="171.0" y2="331.62" stroke="#a6a6a6" stroke-width="0.7"/>
<line x1="93.1" y1="345.67" x2="171.0" y2="345.67" stroke="#a6a6a6" stroke-width="0.7"/>
<line x1="93.1" y1="359.71" x2="171.0" y2="359.71" stroke="#a6a6a6" stroke-width="0.7"/>
<path d="M104.20,301.94 C111.12,300.94 115.45,292.96 121.50,292.04 C124.97,292.04 126.95,301.04 131.40,302.34" fill="none" stroke="#141414" stroke-width="1.05"/>
<path d="M104.20,315.98 C111.28,314.98 115.71,306.27 121.90,305.28 C125.23,305.28 127.12,315.08 131.40,316.38" fill="none" stroke="#141414" stroke-width="1.05"/>
<path d="M104.20,330.02 C111.44,329.02 115.97,319.85 122.30,318.82 C125.48,318.82 127.31,329.12 131.40,330.43" fill="none" stroke="#141414" stroke-width="1.05"/>
<path d="M104.20,344.07 C111.04,343.07 115.31,334.53 121.30,333.57 C124.83,333.57 126.86,343.17 131.40,344.47" fill="none" stroke="#141414" stroke-width="1.05"/>
<path d="M104.20,358.11 C110.96,357.11 115.19,349.96 121.10,349.11 C124.70,349.11 126.77,357.21 131.40,358.51" fill="none" stroke="#141414" stroke-width="1.05"/>
<path d="M103.30,373.75 C109.36,369.75 114.41,366.25 117.44,365.25 L121.50,363.75 L124.70,363.75 C126.00,365.75 128.10,370.75 129.60,373.75 Z" fill="#858585" stroke="#777" stroke-width="0.5"/>
<rect x="93.1" y="289.5" width="77.90" height="84.25" fill="none" stroke="#7a7a7a" stroke-width="0.8"/>
<line x1="93.1" y1="373.75" x2="171.0" y2="373.75" stroke="#666" stroke-width="0.6"/>
<line x1="132.1" y1="289.80" x2="132.1" y2="373.45" stroke="#000" stroke-width="1.5" stroke-dasharray="1.4 1.3"/>
<text x="113.61" y="382.80" font-size="4.4" text-anchor="middle" fill="#4a4a4a">0</text>
<line x1="113.61" y1="373.75" x2="113.61" y2="375.35" stroke="#777" stroke-width="0.4"/>
<text x="135.70" y="382.80" font-size="4.3" text-anchor="middle" fill="#4a4a4a">10<tspan dy="-1.5" font-size="3">2</tspan></text>
<line x1="135.70" y1="373.75" x2="135.70" y2="375.35" stroke="#777" stroke-width="0.4"/>
<text x="150.69" y="382.80" font-size="4.3" text-anchor="middle" fill="#4a4a4a">10<tspan dy="-1.5" font-size="3">4</tspan></text>
<line x1="150.69" y1="373.75" x2="150.69" y2="375.35" stroke="#777" stroke-width="0.4"/>
<text x="164.98" y="382.80" font-size="4.3" text-anchor="middle" fill="#4a4a4a">10<tspan dy="-1.5" font-size="3">5</tspan></text>
<line x1="164.98" y1="373.75" x2="164.98" y2="375.35" stroke="#777" stroke-width="0.4"/>
<text x="198.25" y="283.30" font-size="9.7" font-weight="bold" stroke="#000" stroke-width="0.38" textLength="56.25" lengthAdjust="spacingAndGlyphs">CD4+ CCR5+</text>
<line x1="182.5" y1="303.54" x2="263.75" y2="303.54" stroke="#a6a6a6" stroke-width="0.7"/>
<line x1="182.5" y1="317.58" x2="263.75" y2="317.58" stroke="#a6a6a6" stroke-width="0.7"/>
<line x1="182.5" y1="331.62" x2="263.75" y2="331.62" stroke="#a6a6a6" stroke-width="0.7"/>
<line x1="182.5" y1="345.67" x2="263.75" y2="345.67" stroke="#a6a6a6" stroke-width="0.7"/>
<line x1="182.5" y1="359.71" x2="263.75" y2="359.71" stroke="#a6a6a6" stroke-width="0.7"/>
<path d="M201.00,301.94 C205.60,300.94 208.47,297.75 212.50,297.24 C216.38,297.24 218.60,301.04 223.60,302.34" fill="none" stroke="#111" stroke-width="1.1" stroke-dasharray="2.4 0.9"/>
<path d="M201.00,315.98 C205.68,314.98 208.60,309.49 212.70,308.78 C216.51,308.78 218.69,315.08 223.60,316.38" fill="none" stroke="#111" stroke-width="0.95"/>
<path d="M201.00,330.02 C205.76,329.02 208.74,323.53 212.90,322.82 C216.65,322.82 218.78,329.12 223.60,330.43" fill="none" stroke="#111" stroke-width="0.95"/>
<path d="M199.00,344.07 C204.36,343.07 207.71,339.87 212.40,339.37 C216.32,339.37 218.56,343.17 223.60,344.47" fill="none" stroke="#111" stroke-width="1.1" stroke-dasharray="2.4 0.9"/>
<path d="M199.00,358.11 C204.32,357.11 207.65,352.99 212.30,352.41 C216.25,352.41 218.52,357.21 223.60,358.51" fill="none" stroke="#111" stroke-width="1.1" stroke-dasharray="2.4 0.9"/>
<path d="M191.00,373.75 C198.20,369.75 204.20,366.25 207.80,365.25 L213.00,363.75 L216.20,363.75 C217.50,365.75 221.00,370.75 222.50,373.75 Z" fill="#858585" stroke="#777" stroke-width="0.5"/>
<rect x="182.5" y="289.5" width="81.25" height="84.25" fill="none" stroke="#7a7a7a" stroke-width="0.8"/>
<line x1="182.5" y1="373.75" x2="263.75" y2="373.75" stroke="#666" stroke-width="0.6"/>
<line x1="225.75" y1="289.80" x2="225.75" y2="373.45" stroke="#000" stroke-width="1.5" stroke-dasharray="1.4 1.3"/>
<text x="203.89" y="382.80" font-size="4.4" text-anchor="middle" fill="#4a4a4a">0</text>
<line x1="203.89" y1="373.75" x2="203.89" y2="375.35" stroke="#777" stroke-width="0.4"/>
<text x="226.93" y="382.80" font-size="4.3" text-anchor="middle" fill="#4a4a4a">10<tspan dy="-1.5" font-size="3">2</tspan></text>
<line x1="226.93" y1="373.75" x2="226.93" y2="375.35" stroke="#777" stroke-width="0.4"/>
<text x="242.56" y="382.80" font-size="4.3" text-anchor="middle" fill="#4a4a4a">10<tspan dy="-1.5" font-size="3">4</tspan></text>
<line x1="242.56" y1="373.75" x2="242.56" y2="375.35" stroke="#777" stroke-width="0.4"/>
<text x="257.48" y="382.80" font-size="4.3" text-anchor="middle" fill="#4a4a4a">10<tspan dy="-1.5" font-size="3">5</tspan></text>
<line x1="257.48" y1="373.75" x2="257.48" y2="375.35" stroke="#777" stroke-width="0.4"/>
<text x="293.25" y="283.30" font-size="9.7" font-weight="bold" stroke="#000" stroke-width="0.38" textLength="53.00" lengthAdjust="spacingAndGlyphs">CD4- CCR5-</text>
<line x1="277.5" y1="303.54" x2="358.75" y2="303.54" stroke="#a6a6a6" stroke-width="0.7"/>
<line x1="277.5" y1="317.58" x2="358.75" y2="317.58" stroke="#a6a6a6" stroke-width="0.7"/>
<line x1="277.5" y1="331.62" x2="358.75" y2="331.62" stroke="#a6a6a6" stroke-width="0.7"/>
<line x1="277.5" y1="345.67" x2="358.75" y2="345.67" stroke="#a6a6a6" stroke-width="0.7"/>
<line x1="277.5" y1="359.71" x2="358.75" y2="359.71" stroke="#a6a6a6" stroke-width="0.7"/>
<path d="M290.00,301.94 C295.52,300.94 298.97,295.26 303.80,294.54 C308.84,294.54 311.72,301.04 318.20,302.34" fill="none" stroke="#141414" stroke-width="1.05"/>
<path d="M290.00,315.98 C295.62,314.98 299.13,306.08 304.04,305.08 C309.00,305.08 311.83,315.08 318.20,316.38" fill="none" stroke="#141414" stroke-width="1.05"/>
<path d="M290.00,330.02 C295.71,329.02 299.28,320.77 304.28,319.82 C309.15,319.82 311.94,329.12 318.20,330.43" fill="none" stroke="#141414" stroke-width="1.05"/>
<path d="M290.00,344.07 C295.47,343.07 298.89,336.47 303.68,335.67 C308.76,335.67 311.67,343.17 318.20,344.47" fill="none" stroke="#141414" stroke-width="1.05"/>
<path d="M290.00,358.11 C295.42,357.11 298.81,350.05 303.56,349.21 C308.68,349.21 311.61,357.21 318.20,358.51" fill="none" stroke="#141414" stroke-width="1.05"/>
<path d="M288.75,373.75 C294.75,369.75 299.75,366.25 302.75,365.25 L306.75,363.75 L309.95,363.75 C311.25,365.75 314.75,370.75 316.25,373.75 Z" fill="#858585" stroke="#777" stroke-width="0.5"/>
<rect x="277.5" y="289.5" width="81.25" height="84.25" fill="none" stroke="#7a7a7a" stroke-width="0.8"/>
<line x1="277.5" y1="373.75" x2="358.75" y2="373.75" stroke="#666" stroke-width="0.6"/>
<line x1="319.25" y1="289.80" x2="319.25" y2="373.45" stroke="#000" stroke-width="1.5" stroke-dasharray="1.4 1.3"/>
<text x="298.89" y="382.80" font-size="4.4" text-anchor="middle" fill="#4a4a4a">0</text>
<line x1="298.89" y1="373.75" x2="298.89" y2="375.35" stroke="#777" stroke-width="0.4"/>
<text x="321.93" y="382.80" font-size="4.3" text-anchor="middle" fill="#4a4a4a">10<tspan dy="-1.5" font-size="3">2</tspan></text>
<line x1="321.93" y1="373.75" x2="321.93" y2="375.35" stroke="#777" stroke-width="0.4"/>
<text x="337.56" y="382.80" font-size="4.3" text-anchor="middle" fill="#4a4a4a">10<tspan dy="-1.5" font-size="3">4</tspan></text>
<line x1="337.56" y1="373.75" x2="337.56" y2="375.35" stroke="#777" stroke-width="0.4"/>
<text x="352.48" y="382.80" font-size="4.3" text-anchor="middle" fill="#4a4a4a">10<tspan dy="-1.5" font-size="3">5</tspan></text>
<line x1="352.48" y1="373.75" x2="352.48" y2="375.35" stroke="#777" stroke-width="0.4"/>
<text x="387.00" y="283.30" font-size="9.7" font-weight="bold" stroke="#000" stroke-width="0.38" textLength="54.25" lengthAdjust="spacingAndGlyphs">CD4- CCR5+</text>
<line x1="372.5" y1="303.54" x2="453.75" y2="303.54" stroke="#a6a6a6" stroke-width="0.7"/>
<line x1="372.5" y1="317.58" x2="453.75" y2="317.58" stroke="#a6a6a6" stroke-width="0.7"/>
<line x1="372.5" y1="331.62" x2="453.75" y2="331.62" stroke="#a6a6a6" stroke-width="0.7"/>
<line x1="372.5" y1="345.67" x2="453.75" y2="345.67" stroke="#a6a6a6" stroke-width="0.7"/>
<line x1="372.5" y1="359.71" x2="453.75" y2="359.71" stroke="#a6a6a6" stroke-width="0.7"/>
<path d="M386.30,302.74 C394.40,302.14 396.02,295.24 402.50,295.24 C410.50,295.24 412.50,301.94 422.50,302.54" fill="none" stroke="#141414" stroke-width="0.95" stroke-dasharray="3 0.7"/>
<path d="M386.30,316.78 C394.52,316.18 396.16,308.08 402.74,308.08 C410.64,308.08 412.62,315.98 422.50,316.58" fill="none" stroke="#141414" stroke-width="0.95"/>
<path d="M386.30,330.82 C394.64,330.23 396.31,322.32 402.98,322.32 C410.79,322.32 412.74,330.02 422.50,330.62" fill="none" stroke="#141414" stroke-width="0.95" stroke-dasharray="3 0.7"/>
<path d="M386.30,344.07 C391.93,343.07 395.45,339.23 400.38,338.67 C404.45,338.67 406.77,343.17 412.00,344.47" fill="none" stroke="#141414" stroke-width="0.95" stroke-dasharray="3 0.7"/>
<path d="M386.30,358.11 C391.88,357.11 395.37,352.35 400.26,351.71 C404.37,351.71 406.72,357.21 412.00,358.51" fill="none" stroke="#141414" stroke-width="0.95" stroke-dasharray="3 0.7"/>
<path d="M383.75,373.75 C389.75,369.75 394.75,366.25 397.75,365.25 L401.75,363.75 L404.95,363.75 C406.25,365.75 409.75,370.75 411.25,373.75 Z" fill="#858585" stroke="#777" stroke-width="0.5"/>
<rect x="372.5" y="289.5" width="81.25" height="84.25" fill="none" stroke="#7a7a7a" stroke-width="0.8"/>
<line x1="372.5" y1="373.75" x2="453.75" y2="373.75" stroke="#666" stroke-width="0.6"/>
<line x1="413.0" y1="289.80" x2="413.0" y2="373.45" stroke="#000" stroke-width="1.5" stroke-dasharray="1.4 1.3"/>
<text x="393.89" y="382.80" font-size="4.4" text-anchor="middle" fill="#4a4a4a">0</text>
<line x1="393.89" y1="373.75" x2="393.89" y2="375.35" stroke="#777" stroke-width="0.4"/>
<text x="416.93" y="382.80" font-size="4.3" text-anchor="middle" fill="#4a4a4a">10<tspan dy="-1.5" font-size="3">2</tspan></text>
<line x1="416.93" y1="373.75" x2="416.93" y2="375.35" stroke="#777" stroke-width="0.4"/>
<text x="432.56" y="382.80" font-size="4.3" text-anchor="middle" fill="#4a4a4a">10<tspan dy="-1.5" font-size="3">4</tspan></text>
<line x1="432.56" y1="373.75" x2="432.56" y2="375.35" stroke="#777" stroke-width="0.4"/>
<text x="447.48" y="382.80" font-size="4.3" text-anchor="middle" fill="#4a4a4a">10<tspan dy="-1.5" font-size="3">5</tspan></text>
<line x1="447.48" y1="373.75" x2="447.48" y2="375.35" stroke="#777" stroke-width="0.4"/>
<text x="249.60" y="259.80" font-size="9.7" font-weight="bold" stroke="#000" stroke-width="0.38" textLength="49.60" lengthAdjust="spacingAndGlyphs">CD38  FITC</text>
<text x="253.20" y="392.80" font-size="9.7" font-weight="bold" stroke="#000" stroke-width="0.38" textLength="41.20" lengthAdjust="spacingAndGlyphs">CD69  PE</text>
</g>
<g id="panelC">
<line x1="58.25" y1="445.00" x2="58.25" y2="628.50" stroke="#000" stroke-width="2.0"/>
<line x1="57.25" y1="627.5" x2="512.64" y2="627.5" stroke="#000" stroke-width="2.0"/>
<line x1="58.25" y1="627.5" x2="58.25" y2="632.10" stroke="#000" stroke-width="1.8"/>
<line x1="77.97" y1="627.5" x2="77.97" y2="632.10" stroke="#000" stroke-width="1.8"/>
<line x1="97.68" y1="627.5" x2="97.68" y2="632.10" stroke="#000" stroke-width="1.8"/>
<line x1="117.40" y1="627.5" x2="117.40" y2="632.10" stroke="#000" stroke-width="1.8"/>
<line x1="137.12" y1="627.5" x2="137.12" y2="632.10" stroke="#000" stroke-width="1.8"/>
<line x1="156.83" y1="627.5" x2="156.83" y2="632.10" stroke="#000" stroke-width="1.8"/>
<line x1="176.55" y1="627.5" x2="176.55" y2="632.10" stroke="#000" stroke-width="1.8"/>
<line x1="196.27" y1="627.5" x2="196.27" y2="632.10" stroke="#000" stroke-width="1.8"/>
<line x1="215.99" y1="627.5" x2="215.99" y2="632.10" stroke="#000" stroke-width="1.8"/>
<line x1="235.70" y1="627.5" x2="235.70" y2="632.10" stroke="#000" stroke-width="1.8"/>
<line x1="255.42" y1="627.5" x2="255.42" y2="632.10" stroke="#000" stroke-width="1.8"/>
<line x1="275.14" y1="627.5" x2="275.14" y2="632.10" stroke="#000" stroke-width="1.8"/>
<line x1="294.85" y1="627.5" x2="294.85" y2="632.10" stroke="#000" stroke-width="1.8"/>
<line x1="314.57" y1="627.5" x2="314.57" y2="632.10" stroke="#000" stroke-width="1.8"/>
<line x1="334.29" y1="627.5" x2="334.29" y2="632.10" stroke="#000" stroke-width="1.8"/>
<line x1="354.00" y1="627.5" x2="354.00" y2="632.10" stroke="#000" stroke-width="1.8"/>
<line x1="373.72" y1="627.5" x2="373.72" y2="632.10" stroke="#000" stroke-width="1.8"/>
<line x1="393.44" y1="627.5" x2="393.44" y2="632.10" stroke="#000" stroke-width="1.8"/>
<line x1="413.16" y1="627.5" x2="413.16" y2="632.10" stroke="#000" stroke-width="1.8"/>
<line x1="432.87" y1="627.5" x2="432.87" y2="632.10" stroke="#000" stroke-width="1.8"/>
<line x1="452.59" y1="627.5" x2="452.59" y2="632.10" stroke="#000" stroke-width="1.8"/>
<line x1="472.31" y1="627.5" x2="472.31" y2="632.10" stroke="#000" stroke-width="1.8"/>
<line x1="492.02" y1="627.5" x2="492.02" y2="632.10" stroke="#000" stroke-width="1.8"/>
<line x1="511.74" y1="627.5" x2="511.74" y2="632.10" stroke="#000" stroke-width="1.8"/>
<line x1="53.3" y1="446.0" x2="58.25" y2="446.0" stroke="#000" stroke-width="2.0"/>
<text x="51.30" y="450.20" font-size="9.7" font-weight="bold" stroke="#000" stroke-width="0.38" text-anchor="end" textLength="11.20" lengthAdjust="spacingAndGlyphs">60</text>
<line x1="53.3" y1="476.0" x2="58.25" y2="476.0" stroke="#000" stroke-width="2.0"/>
<text x="51.30" y="480.20" font-size="9.7" font-weight="bold" stroke="#000" stroke-width="0.38" text-anchor="end" textLength="11.20" lengthAdjust="spacingAndGlyphs">50</text>
<line x1="53.3" y1="506.2" x2="58.25" y2="506.2" stroke="#000" stroke-width="2.0"/>
<text x="51.30" y="510.40" font-size="9.7" font-weight="bold" stroke="#000" stroke-width="0.38" text-anchor="end" textLength="11.20" lengthAdjust="spacingAndGlyphs">40</text>
<line x1="53.3" y1="536.6" x2="58.25" y2="536.6" stroke="#000" stroke-width="2.0"/>
<text x="51.30" y="540.80" font-size="9.7" font-weight="bold" stroke="#000" stroke-width="0.38" text-anchor="end" textLength="11.20" lengthAdjust="spacingAndGlyphs">30</text>
<line x1="53.3" y1="566.5" x2="58.25" y2="566.5" stroke="#000" stroke-width="2.0"/>
<text x="51.30" y="570.70" font-size="9.7" font-weight="bold" stroke="#000" stroke-width="0.38" text-anchor="end" textLength="11.20" lengthAdjust="spacingAndGlyphs">20</text>
<line x1="53.3" y1="596.9" x2="58.25" y2="596.9" stroke="#000" stroke-width="2.0"/>
<text x="51.30" y="601.10" font-size="9.7" font-weight="bold" stroke="#000" stroke-width="0.38" text-anchor="end" textLength="11.20" lengthAdjust="spacingAndGlyphs">10</text>
<line x1="53.3" y1="627.5" x2="58.25" y2="627.5" stroke="#000" stroke-width="2.0"/>
<text x="51.30" y="631.70" font-size="9.7" font-weight="bold" stroke="#000" stroke-width="0.38" text-anchor="end" textLength="5.60" lengthAdjust="spacingAndGlyphs">0</text>
<text x="31.50" y="573.20" font-size="9.7" font-weight="bold" stroke="#000" stroke-width="0.38" textLength="70.00" lengthAdjust="spacingAndGlyphs" transform="rotate(-90 31.50 573.20)">%CD38+ T cells</text>
<line x1="167.0" y1="444.40" x2="167.0" y2="627.50" stroke="#000" stroke-width="1.35" stroke-dasharray="1.25 1.6"/>
<line x1="285.4" y1="444.40" x2="285.4" y2="627.50" stroke="#000" stroke-width="1.35" stroke-dasharray="1.25 1.6"/>
<line x1="403.8" y1="444.40" x2="403.8" y2="627.50" stroke="#000" stroke-width="1.35" stroke-dasharray="1.25 1.6"/>
<line x1="68.11" y1="466.75" x2="68.11" y2="518.25" stroke="#000" stroke-width="2.1"/>
<line x1="64.61" y1="466.75" x2="71.61" y2="466.75" stroke="#000" stroke-width="2.1"/>
<line x1="64.61" y1="518.25" x2="71.61" y2="518.25" stroke="#000" stroke-width="2.1"/>
<line x1="60.51" y1="482.5" x2="75.71" y2="482.5" stroke="#000" stroke-width="4.2"/>
<text x="71.71" y="461.85" font-size="8.7" textLength="37.00" lengthAdjust="spacingAndGlyphs" transform="rotate(-90 71.71 461.85)">P=0.002*</text>
<line x1="87.83" y1="467.5" x2="87.83" y2="520.5" stroke="#000" stroke-width="2.1"/>
<line x1="84.33" y1="467.5" x2="91.33" y2="467.5" stroke="#000" stroke-width="2.1"/>
<line x1="84.33" y1="520.5" x2="91.33" y2="520.5" stroke="#000" stroke-width="2.1"/>
<line x1="80.23" y1="491.25" x2="95.43" y2="491.25" stroke="#000" stroke-width="4.2"/>
<text x="91.43" y="463.50" font-size="8.7" textLength="37.00" lengthAdjust="spacingAndGlyphs" transform="rotate(-90 91.43 463.50)">P=0.004*</text>
<line x1="107.54" y1="464.25" x2="107.54" y2="517.5" stroke="#000" stroke-width="2.1"/>
<line x1="104.04" y1="464.25" x2="111.04" y2="464.25" stroke="#000" stroke-width="2.1"/>
<line x1="104.04" y1="517.5" x2="111.04" y2="517.5" stroke="#000" stroke-width="2.1"/>
<line x1="99.94" y1="480.5" x2="115.14" y2="480.5" stroke="#000" stroke-width="4.2"/>
<text x="111.14" y="461.45" font-size="8.7" textLength="37.00" lengthAdjust="spacingAndGlyphs" transform="rotate(-90 111.14 461.45)">P=0.002*</text>
<line x1="127.26" y1="476.5" x2="127.26" y2="540" stroke="#000" stroke-width="2.1"/>
<line x1="123.76" y1="476.5" x2="130.76" y2="476.5" stroke="#000" stroke-width="2.1"/>
<line x1="123.76" y1="540" x2="130.76" y2="540" stroke="#000" stroke-width="2.1"/>
<line x1="119.66" y1="497" x2="134.86" y2="497" stroke="#000" stroke-width="4.2"/>
<line x1="146.98" y1="475.5" x2="146.98" y2="546" stroke="#000" stroke-width="2.1"/>
<line x1="143.48" y1="475.5" x2="150.48" y2="475.5" stroke="#000" stroke-width="2.1"/>
<line x1="143.48" y1="546" x2="150.48" y2="546" stroke="#000" stroke-width="2.1"/>
<line x1="139.38" y1="510" x2="154.58" y2="510" stroke="#000" stroke-width="4.2"/>
<line x1="186.41" y1="494.5" x2="186.41" y2="548" stroke="#000" stroke-width="2.1"/>
<line x1="182.91" y1="494.5" x2="189.91" y2="494.5" stroke="#000" stroke-width="2.1"/>
<line x1="182.91" y1="548" x2="189.91" y2="548" stroke="#000" stroke-width="2.1"/>
<line x1="178.81" y1="524.5" x2="194.01" y2="524.5" stroke="#000" stroke-width="4.2"/>
<text x="190.01" y="491.50" font-size="8.7" textLength="37.00" lengthAdjust="spacingAndGlyphs" transform="rotate(-90 190.01 491.50)">P=0.002*</text>
<line x1="206.13" y1="493" x2="206.13" y2="555" stroke="#000" stroke-width="2.1"/>
<line x1="202.63" y1="493" x2="209.63" y2="493" stroke="#000" stroke-width="2.1"/>
<line x1="202.63" y1="555" x2="209.63" y2="555" stroke="#000" stroke-width="2.1"/>
<line x1="198.53" y1="534.25" x2="213.73" y2="534.25" stroke="#000" stroke-width="4.2"/>
<text x="209.73" y="490.50" font-size="8.7" textLength="37.00" lengthAdjust="spacingAndGlyphs" transform="rotate(-90 209.73 490.50)">P=0.002*</text>
<line x1="225.84" y1="491.25" x2="225.84" y2="556.75" stroke="#000" stroke-width="2.1"/>
<line x1="222.34" y1="491.25" x2="229.34" y2="491.25" stroke="#000" stroke-width="2.1"/>
<line x1="222.34" y1="556.75" x2="229.34" y2="556.75" stroke="#000" stroke-width="2.1"/>
<line x1="218.24" y1="535" x2="233.44" y2="535" stroke="#000" stroke-width="4.2"/>
<text x="229.44" y="488.75" font-size="8.7" textLength="37.00" lengthAdjust="spacingAndGlyphs" transform="rotate(-90 229.44 488.75)">P=0.005*</text>
<line x1="245.56" y1="508" x2="245.56" y2="572.5" stroke="#000" stroke-width="2.1"/>
<line x1="242.06" y1="508" x2="249.06" y2="508" stroke="#000" stroke-width="2.1"/>
<line x1="242.06" y1="572.5" x2="249.06" y2="572.5" stroke="#000" stroke-width="2.1"/>
<line x1="237.96" y1="566.25" x2="253.16" y2="566.25" stroke="#000" stroke-width="4.2"/>
<line x1="265.28" y1="530" x2="265.28" y2="583.75" stroke="#000" stroke-width="2.1"/>
<line x1="261.78" y1="530" x2="268.78" y2="530" stroke="#000" stroke-width="2.1"/>
<line x1="261.78" y1="583.75" x2="268.78" y2="583.75" stroke="#000" stroke-width="2.1"/>
<line x1="257.68" y1="564" x2="272.88" y2="564" stroke="#000" stroke-width="4.2"/>
<line x1="304.71" y1="465.75" x2="304.71" y2="523" stroke="#000" stroke-width="2.1"/>
<line x1="301.21" y1="465.75" x2="308.21" y2="465.75" stroke="#000" stroke-width="2.1"/>
<line x1="301.21" y1="523" x2="308.21" y2="523" stroke="#000" stroke-width="2.1"/>
<line x1="297.11" y1="497.75" x2="312.31" y2="497.75" stroke="#000" stroke-width="4.2"/>
<text x="308.31" y="464.05" font-size="8.7" textLength="37.30" lengthAdjust="spacingAndGlyphs" transform="rotate(-90 308.31 464.05)">P&lt;0.001*</text>
<line x1="324.43" y1="486.25" x2="324.43" y2="539.25" stroke="#000" stroke-width="2.1"/>
<line x1="320.93" y1="486.25" x2="327.93" y2="486.25" stroke="#000" stroke-width="2.1"/>
<line x1="320.93" y1="539.25" x2="327.93" y2="539.25" stroke="#000" stroke-width="2.1"/>
<line x1="316.83" y1="504" x2="332.03" y2="504" stroke="#000" stroke-width="4.2"/>
<text x="328.03" y="482.95" font-size="8.7" textLength="37.00" lengthAdjust="spacingAndGlyphs" transform="rotate(-90 328.03 482.95)">P=0.002*</text>
<line x1="344.15" y1="465" x2="344.15" y2="541.75" stroke="#000" stroke-width="2.1"/>
<line x1="340.65" y1="465" x2="347.65" y2="465" stroke="#000" stroke-width="2.1"/>
<line x1="340.65" y1="541.75" x2="347.65" y2="541.75" stroke="#000" stroke-width="2.1"/>
<line x1="336.55" y1="505" x2="351.75" y2="505" stroke="#000" stroke-width="4.2"/>
<text x="347.75" y="462.20" font-size="8.7" textLength="37.00" lengthAdjust="spacingAndGlyphs" transform="rotate(-90 347.75 462.20)">P=0.001*</text>
<line x1="363.86" y1="525" x2="363.86" y2="575.5" stroke="#000" stroke-width="2.1"/>
<line x1="360.36" y1="525" x2="367.36" y2="525" stroke="#000" stroke-width="2.1"/>
<line x1="360.36" y1="575.5" x2="367.36" y2="575.5" stroke="#000" stroke-width="2.1"/>
<line x1="356.26" y1="555" x2="371.46" y2="555" stroke="#000" stroke-width="4.2"/>
<line x1="383.58" y1="523.75" x2="383.58" y2="585.5" stroke="#000" stroke-width="2.1"/>
<line x1="380.08" y1="523.75" x2="387.08" y2="523.75" stroke="#000" stroke-width="2.1"/>
<line x1="380.08" y1="585.5" x2="387.08" y2="585.5" stroke="#000" stroke-width="2.1"/>
<line x1="375.98" y1="555" x2="391.18" y2="555" stroke="#000" stroke-width="4.2"/>
<line x1="423.01" y1="498.5" x2="423.01" y2="563.75" stroke="#000" stroke-width="2.1"/>
<line x1="419.51" y1="498.5" x2="426.51" y2="498.5" stroke="#000" stroke-width="2.1"/>
<line x1="419.51" y1="563.75" x2="426.51" y2="563.75" stroke="#000" stroke-width="2.1"/>
<line x1="415.41" y1="539.25" x2="430.61" y2="539.25" stroke="#000" stroke-width="4.2"/>
<text x="426.61" y="495.20" font-size="8.7" textLength="37.00" lengthAdjust="spacingAndGlyphs" transform="rotate(-90 426.61 495.20)">P=0.001*</text>
<line x1="442.73" y1="537.75" x2="442.73" y2="583.5" stroke="#000" stroke-width="2.1"/>
<line x1="439.23" y1="537.75" x2="446.23" y2="537.75" stroke="#000" stroke-width="2.1"/>
<line x1="439.23" y1="583.5" x2="446.23" y2="583.5" stroke="#000" stroke-width="2.1"/>
<line x1="435.13" y1="555" x2="450.33" y2="555" stroke="#000" stroke-width="4.2"/>
<text x="446.33" y="534.45" font-size="8.7" textLength="37.00" lengthAdjust="spacingAndGlyphs" transform="rotate(-90 446.33 534.45)">P=0.003*</text>
<line x1="462.45" y1="526.75" x2="462.45" y2="579.25" stroke="#000" stroke-width="2.1"/>
<line x1="458.95" y1="526.75" x2="465.95" y2="526.75" stroke="#000" stroke-width="2.1"/>
<line x1="458.95" y1="579.25" x2="465.95" y2="579.25" stroke="#000" stroke-width="2.1"/>
<line x1="454.85" y1="558.75" x2="470.05" y2="558.75" stroke="#000" stroke-width="4.2"/>
<text x="466.05" y="523.75" font-size="8.7" textLength="37.00" lengthAdjust="spacingAndGlyphs" transform="rotate(-90 466.05 523.75)">P=0.002*</text>
<line x1="482.17" y1="573.75" x2="482.17" y2="598.75" stroke="#000" stroke-width="2.1"/>
<line x1="478.67" y1="573.75" x2="485.67" y2="573.75" stroke="#000" stroke-width="2.1"/>
<line x1="478.67" y1="598.75" x2="485.67" y2="598.75" stroke="#000" stroke-width="2.1"/>
<line x1="474.57" y1="587" x2="489.77" y2="587" stroke="#000" stroke-width="4.2"/>
<line x1="501.88" y1="571.25" x2="501.88" y2="603.75" stroke="#000" stroke-width="2.1"/>
<line x1="498.38" y1="571.25" x2="505.38" y2="571.25" stroke="#000" stroke-width="2.1"/>
<line x1="498.38" y1="603.75" x2="505.38" y2="603.75" stroke="#000" stroke-width="2.1"/>
<line x1="494.28" y1="597.5" x2="509.48" y2="597.5" stroke="#000" stroke-width="4.2"/>
<line x1="58.25" y1="679.00" x2="58.25" y2="862.30" stroke="#000" stroke-width="2.0"/>
<line x1="57.25" y1="861.3" x2="512.64" y2="861.3" stroke="#000" stroke-width="2.0"/>
<line x1="58.25" y1="861.3" x2="58.25" y2="865.90" stroke="#000" stroke-width="1.8"/>
<line x1="77.97" y1="861.3" x2="77.97" y2="865.90" stroke="#000" stroke-width="1.8"/>
<line x1="97.68" y1="861.3" x2="97.68" y2="865.90" stroke="#000" stroke-width="1.8"/>
<line x1="117.40" y1="861.3" x2="117.40" y2="865.90" stroke="#000" stroke-width="1.8"/>
<line x1="137.12" y1="861.3" x2="137.12" y2="865.90" stroke="#000" stroke-width="1.8"/>
<line x1="156.83" y1="861.3" x2="156.83" y2="865.90" stroke="#000" stroke-width="1.8"/>
<line x1="176.55" y1="861.3" x2="176.55" y2="865.90" stroke="#000" stroke-width="1.8"/>
<line x1="196.27" y1="861.3" x2="196.27" y2="865.90" stroke="#000" stroke-width="1.8"/>
<line x1="215.99" y1="861.3" x2="215.99" y2="865.90" stroke="#000" stroke-width="1.8"/>
<line x1="235.70" y1="861.3" x2="235.70" y2="865.90" stroke="#000" stroke-width="1.8"/>
<line x1="255.42" y1="861.3" x2="255.42" y2="865.90" stroke="#000" stroke-width="1.8"/>
<line x1="275.14" y1="861.3" x2="275.14" y2="865.90" stroke="#000" stroke-width="1.8"/>
<line x1="294.85" y1="861.3" x2="294.85" y2="865.90" stroke="#000" stroke-width="1.8"/>
<line x1="314.57" y1="861.3" x2="314.57" y2="865.90" stroke="#000" stroke-width="1.8"/>
<line x1="334.29" y1="861.3" x2="334.29" y2="865.90" stroke="#000" stroke-width="1.8"/>
<line x1="354.00" y1="861.3" x2="354.00" y2="865.90" stroke="#000" stroke-width="1.8"/>
<line x1="373.72" y1="861.3" x2="373.72" y2="865.90" stroke="#000" stroke-width="1.8"/>
<line x1="393.44" y1="861.3" x2="393.44" y2="865.90" stroke="#000" stroke-width="1.8"/>
<line x1="413.16" y1="861.3" x2="413.16" y2="865.90" stroke="#000" stroke-width="1.8"/>
<line x1="432.87" y1="861.3" x2="432.87" y2="865.90" stroke="#000" stroke-width="1.8"/>
<line x1="452.59" y1="861.3" x2="452.59" y2="865.90" stroke="#000" stroke-width="1.8"/>
<line x1="472.31" y1="861.3" x2="472.31" y2="865.90" stroke="#000" stroke-width="1.8"/>
<line x1="492.02" y1="861.3" x2="492.02" y2="865.90" stroke="#000" stroke-width="1.8"/>
<line x1="511.74" y1="861.3" x2="511.74" y2="865.90" stroke="#000" stroke-width="1.8"/>
<line x1="53.3" y1="680.0" x2="58.25" y2="680.0" stroke="#000" stroke-width="2.0"/>
<text x="51.30" y="684.20" font-size="9.7" font-weight="bold" stroke="#000" stroke-width="0.38" text-anchor="end" textLength="11.20" lengthAdjust="spacingAndGlyphs">20</text>
<line x1="53.3" y1="725.4" x2="58.25" y2="725.4" stroke="#000" stroke-width="2.0"/>
<text x="51.30" y="729.60" font-size="9.7" font-weight="bold" stroke="#000" stroke-width="0.38" text-anchor="end" textLength="11.20" lengthAdjust="spacingAndGlyphs">15</text>
<line x1="53.3" y1="770.7" x2="58.25" y2="770.7" stroke="#000" stroke-width="2.0"/>
<text x="51.30" y="774.90" font-size="9.7" font-weight="bold" stroke="#000" stroke-width="0.38" text-anchor="end" textLength="11.20" lengthAdjust="spacingAndGlyphs">10</text>
<line x1="53.3" y1="815.9" x2="58.25" y2="815.9" stroke="#000" stroke-width="2.0"/>
<text x="51.30" y="820.10" font-size="9.7" font-weight="bold" stroke="#000" stroke-width="0.38" text-anchor="end" textLength="5.60" lengthAdjust="spacingAndGlyphs">5</text>
<line x1="53.3" y1="861.3" x2="58.25" y2="861.3" stroke="#000" stroke-width="2.0"/>
<text x="51.30" y="865.50" font-size="9.7" font-weight="bold" stroke="#000" stroke-width="0.38" text-anchor="end" textLength="5.60" lengthAdjust="spacingAndGlyphs">0</text>
<text x="31.50" y="808.60" font-size="9.7" font-weight="bold" stroke="#000" stroke-width="0.38" textLength="70.80" lengthAdjust="spacingAndGlyphs" transform="rotate(-90 31.50 808.60)">%CD69+ T cells</text>
<line x1="167.0" y1="678.40" x2="167.0" y2="861.30" stroke="#000" stroke-width="1.35" stroke-dasharray="1.25 1.6"/>
<line x1="285.4" y1="678.40" x2="285.4" y2="861.30" stroke="#000" stroke-width="1.35" stroke-dasharray="1.25 1.6"/>
<line x1="403.8" y1="678.40" x2="403.8" y2="861.30" stroke="#000" stroke-width="1.35" stroke-dasharray="1.25 1.6"/>
<line x1="68.11" y1="847" x2="68.11" y2="854.5" stroke="#000" stroke-width="2.1"/>
<line x1="64.61" y1="847" x2="71.61" y2="847" stroke="#000" stroke-width="2.1"/>
<line x1="64.61" y1="854.5" x2="71.61" y2="854.5" stroke="#000" stroke-width="2.1"/>
<line x1="60.51" y1="851.75" x2="75.71" y2="851.75" stroke="#000" stroke-width="4.2"/>
<text x="71.71" y="844.40" font-size="8.7" textLength="37.30" lengthAdjust="spacingAndGlyphs" transform="rotate(-90 71.71 844.40)">P&lt;0.001*</text>
<line x1="87.83" y1="853" x2="87.83" y2="858.5" stroke="#000" stroke-width="2.1"/>
<line x1="84.33" y1="853" x2="91.33" y2="853" stroke="#000" stroke-width="2.1"/>
<line x1="84.33" y1="858.5" x2="91.33" y2="858.5" stroke="#000" stroke-width="2.1"/>
<line x1="80.23" y1="856.5" x2="95.43" y2="856.5" stroke="#000" stroke-width="4.2"/>
<text x="91.43" y="850.60" font-size="8.7" textLength="37.00" lengthAdjust="spacingAndGlyphs" transform="rotate(-90 91.43 850.60)">P=0.001*</text>
<line x1="107.54" y1="852" x2="107.54" y2="858" stroke="#000" stroke-width="2.1"/>
<line x1="104.04" y1="852" x2="111.04" y2="852" stroke="#000" stroke-width="2.1"/>
<line x1="104.04" y1="858" x2="111.04" y2="858" stroke="#000" stroke-width="2.1"/>
<line x1="99.94" y1="855" x2="115.14" y2="855" stroke="#000" stroke-width="4.2"/>
<text x="111.14" y="849.90" font-size="8.7" textLength="37.00" lengthAdjust="spacingAndGlyphs" transform="rotate(-90 111.14 849.90)">P=0.001*</text>
<line x1="119.66" y1="860.25" x2="134.86" y2="860.25" stroke="#000" stroke-width="3"/>
<line x1="139.38" y1="860.25" x2="154.58" y2="860.25" stroke="#000" stroke-width="3"/>
<line x1="186.41" y1="795" x2="186.41" y2="825.5" stroke="#000" stroke-width="2.1"/>
<line x1="182.91" y1="795" x2="189.91" y2="795" stroke="#000" stroke-width="2.1"/>
<line x1="182.91" y1="825.5" x2="189.91" y2="825.5" stroke="#000" stroke-width="2.1"/>
<line x1="178.81" y1="812" x2="194.01" y2="812" stroke="#000" stroke-width="4.2"/>
<text x="190.01" y="793.70" font-size="8.7" textLength="37.00" lengthAdjust="spacingAndGlyphs" transform="rotate(-90 190.01 793.70)">P=0.002*</text>
<line x1="206.13" y1="802.5" x2="206.13" y2="846.25" stroke="#000" stroke-width="2.1"/>
<line x1="202.63" y1="802.5" x2="209.63" y2="802.5" stroke="#000" stroke-width="2.1"/>
<line x1="202.63" y1="846.25" x2="209.63" y2="846.25" stroke="#000" stroke-width="2.1"/>
<line x1="198.53" y1="822" x2="213.73" y2="822" stroke="#000" stroke-width="4.2"/>
<text x="209.73" y="799.50" font-size="8.7" textLength="37.00" lengthAdjust="spacingAndGlyphs" transform="rotate(-90 209.73 799.50)">P=0.005*</text>
<line x1="225.84" y1="799.5" x2="225.84" y2="841.25" stroke="#000" stroke-width="2.1"/>
<line x1="222.34" y1="799.5" x2="229.34" y2="799.5" stroke="#000" stroke-width="2.1"/>
<line x1="222.34" y1="841.25" x2="229.34" y2="841.25" stroke="#000" stroke-width="2.1"/>
<line x1="218.24" y1="805" x2="233.44" y2="805" stroke="#000" stroke-width="4.2"/>
<text x="229.44" y="796.90" font-size="8.7" textLength="37.30" lengthAdjust="spacingAndGlyphs" transform="rotate(-90 229.44 796.90)">P&lt;0.001*</text>
<line x1="245.56" y1="850" x2="245.56" y2="861" stroke="#000" stroke-width="2.1"/>
<line x1="242.06" y1="850" x2="249.06" y2="850" stroke="#000" stroke-width="2.1"/>
<line x1="242.06" y1="861" x2="249.06" y2="861" stroke="#000" stroke-width="2.1"/>
<line x1="237.96" y1="859.25" x2="253.16" y2="859.25" stroke="#000" stroke-width="4.2"/>
<line x1="265.28" y1="852" x2="265.28" y2="861" stroke="#000" stroke-width="2.1"/>
<line x1="261.78" y1="852" x2="268.78" y2="852" stroke="#000" stroke-width="2.1"/>
<line x1="261.78" y1="861" x2="268.78" y2="861" stroke="#000" stroke-width="2.1"/>
<line x1="257.68" y1="860.5" x2="272.88" y2="860.5" stroke="#000" stroke-width="4.2"/>
<line x1="304.71" y1="848.75" x2="304.71" y2="857" stroke="#000" stroke-width="2.1"/>
<line x1="301.21" y1="848.75" x2="308.21" y2="848.75" stroke="#000" stroke-width="2.1"/>
<line x1="301.21" y1="857" x2="308.21" y2="857" stroke="#000" stroke-width="2.1"/>
<line x1="297.11" y1="852.25" x2="312.31" y2="852.25" stroke="#000" stroke-width="4.2"/>
<text x="308.31" y="845.35" font-size="8.7" textLength="37.30" lengthAdjust="spacingAndGlyphs" transform="rotate(-90 308.31 845.35)">P&lt;0.001*</text>
<line x1="324.43" y1="852.5" x2="324.43" y2="857.5" stroke="#000" stroke-width="2.1"/>
<line x1="320.93" y1="852.5" x2="327.93" y2="852.5" stroke="#000" stroke-width="2.1"/>
<line x1="320.93" y1="857.5" x2="327.93" y2="857.5" stroke="#000" stroke-width="2.1"/>
<line x1="316.83" y1="854.75" x2="332.03" y2="854.75" stroke="#000" stroke-width="4.2"/>
<text x="328.03" y="848.90" font-size="8.7" textLength="37.30" lengthAdjust="spacingAndGlyphs" transform="rotate(-90 328.03 848.90)">P&lt;0.001*</text>
<line x1="344.15" y1="851.25" x2="344.15" y2="859.5" stroke="#000" stroke-width="2.1"/>
<line x1="340.65" y1="851.25" x2="347.65" y2="851.25" stroke="#000" stroke-width="2.1"/>
<line x1="340.65" y1="859.5" x2="347.65" y2="859.5" stroke="#000" stroke-width="2.1"/>
<line x1="336.55" y1="856" x2="351.75" y2="856" stroke="#000" stroke-width="4.2"/>
<text x="347.75" y="848.65" font-size="8.7" textLength="37.00" lengthAdjust="spacingAndGlyphs" transform="rotate(-90 347.75 848.65)">P=0.001*</text>
<line x1="356.26" y1="860" x2="371.46" y2="860" stroke="#000" stroke-width="3"/>
<line x1="375.98" y1="860" x2="391.18" y2="860" stroke="#000" stroke-width="3"/>
<line x1="423.01" y1="692.7" x2="423.01" y2="781" stroke="#000" stroke-width="2.1"/>
<line x1="419.51" y1="692.7" x2="426.51" y2="692.7" stroke="#000" stroke-width="2.1"/>
<line x1="419.51" y1="781" x2="426.51" y2="781" stroke="#000" stroke-width="2.1"/>
<line x1="415.41" y1="771" x2="430.61" y2="771" stroke="#000" stroke-width="4.2"/>
<text x="426.61" y="691.40" font-size="8.7" textLength="37.30" lengthAdjust="spacingAndGlyphs" transform="rotate(-90 426.61 691.40)">P&lt;0.001*</text>
<line x1="442.73" y1="711.8" x2="442.73" y2="802.3" stroke="#000" stroke-width="2.1"/>
<line x1="439.23" y1="711.8" x2="446.23" y2="711.8" stroke="#000" stroke-width="2.1"/>
<line x1="439.23" y1="802.3" x2="446.23" y2="802.3" stroke="#000" stroke-width="2.1"/>
<line x1="435.13" y1="764.2" x2="450.33" y2="764.2" stroke="#000" stroke-width="4.2"/>
<text x="446.33" y="708.70" font-size="8.7" textLength="37.30" lengthAdjust="spacingAndGlyphs" transform="rotate(-90 446.33 708.70)">P&lt;0.001*</text>
<line x1="462.45" y1="735.4" x2="462.45" y2="798.2" stroke="#000" stroke-width="2.1"/>
<line x1="458.95" y1="735.4" x2="465.95" y2="735.4" stroke="#000" stroke-width="2.1"/>
<line x1="458.95" y1="798.2" x2="465.95" y2="798.2" stroke="#000" stroke-width="2.1"/>
<line x1="454.85" y1="774.2" x2="470.05" y2="774.2" stroke="#000" stroke-width="4.2"/>
<text x="466.05" y="731.70" font-size="8.7" textLength="37.00" lengthAdjust="spacingAndGlyphs" transform="rotate(-90 466.05 731.70)">P=0.001*</text>
<line x1="482.17" y1="837.6" x2="482.17" y2="853" stroke="#000" stroke-width="2.1"/>
<line x1="478.67" y1="837.6" x2="485.67" y2="837.6" stroke="#000" stroke-width="2.1"/>
<line x1="478.67" y1="853" x2="485.67" y2="853" stroke="#000" stroke-width="2.1"/>
<line x1="474.57" y1="848" x2="489.77" y2="848" stroke="#000" stroke-width="4.2"/>
<line x1="501.88" y1="841.5" x2="501.88" y2="856.5" stroke="#000" stroke-width="2.1"/>
<line x1="498.38" y1="841.5" x2="505.38" y2="841.5" stroke="#000" stroke-width="2.1"/>
<line x1="498.38" y1="856.5" x2="505.38" y2="856.5" stroke="#000" stroke-width="2.1"/>
<line x1="494.28" y1="849.6" x2="509.48" y2="849.6" stroke="#000" stroke-width="4.2"/>
<text x="68.71" y="875.40" font-size="9.7" font-weight="bold" stroke="#000" stroke-width="0.38" text-anchor="middle" textLength="16.70" lengthAdjust="spacingAndGlyphs">HIV</text>
<text x="88.43" y="875.40" font-size="9.7" font-weight="bold" stroke="#000" stroke-width="0.38" text-anchor="middle" textLength="11.80" lengthAdjust="spacingAndGlyphs">20</text>
<text x="108.14" y="875.40" font-size="9.7" font-weight="bold" stroke="#000" stroke-width="0.38" text-anchor="middle" textLength="11.90" lengthAdjust="spacingAndGlyphs">80</text>
<text x="127.86" y="875.40" font-size="9.7" font-weight="bold" stroke="#000" stroke-width="0.38" text-anchor="middle" textLength="16.60" lengthAdjust="spacingAndGlyphs">120</text>
<text x="148.18" y="875.40" font-size="9.7" font-weight="bold" stroke="#000" stroke-width="0.38" text-anchor="middle" textLength="22.00" lengthAdjust="spacingAndGlyphs">CTRL</text>
<path d="M77.03,875.60 C77.03,880.10 80.63,881.60 85.03,881.60 L128.96,881.60 C133.36,881.60 136.96,880.10 136.96,875.60" fill="none" stroke="#000" stroke-width="1.5"/>
<text x="106.54" y="893.40" font-size="9.7" font-weight="bold" stroke="#000" stroke-width="0.38" text-anchor="middle" textLength="38.80" lengthAdjust="spacingAndGlyphs"><tspan font-weight="normal" font-size="12">β</tspan>CD HIV</text>
<path d="M58.74,896.80 C58.74,900.70 63.69,902.00 69.74,902.00 L147.14,902.00 C153.19,902.00 158.14,900.70 158.14,896.80" fill="none" stroke="#000" stroke-width="1.5"/>
<text x="106.64" y="913.40" font-size="9.7" font-weight="bold" stroke="#000" stroke-width="0.38" text-anchor="middle" textLength="87.00" lengthAdjust="spacingAndGlyphs">CD4+ CCR5- T cells</text>
<text x="187.01" y="875.40" font-size="9.7" font-weight="bold" stroke="#000" stroke-width="0.38" text-anchor="middle" textLength="16.70" lengthAdjust="spacingAndGlyphs">HIV</text>
<text x="206.73" y="875.40" font-size="9.7" font-weight="bold" stroke="#000" stroke-width="0.38" text-anchor="middle" textLength="11.80" lengthAdjust="spacingAndGlyphs">20</text>
<text x="226.44" y="875.40" font-size="9.7" font-weight="bold" stroke="#000" stroke-width="0.38" text-anchor="middle" textLength="11.90" lengthAdjust="spacingAndGlyphs">80</text>
<text x="246.16" y="875.40" font-size="9.7" font-weight="bold" stroke="#000" stroke-width="0.38" text-anchor="middle" textLength="16.60" lengthAdjust="spacingAndGlyphs">120</text>
<text x="266.48" y="875.40" font-size="9.7" font-weight="bold" stroke="#000" stroke-width="0.38" text-anchor="middle" textLength="22.00" lengthAdjust="spacingAndGlyphs">CTRL</text>
<path d="M195.33,875.60 C195.33,880.10 198.93,881.60 203.33,881.60 L247.26,881.60 C251.66,881.60 255.26,880.10 255.26,875.60" fill="none" stroke="#000" stroke-width="1.5"/>
<text x="224.84" y="893.40" font-size="9.7" font-weight="bold" stroke="#000" stroke-width="0.38" text-anchor="middle" textLength="38.80" lengthAdjust="spacingAndGlyphs"><tspan font-weight="normal" font-size="12">β</tspan>CD HIV</text>
<path d="M177.04,896.80 C177.04,900.70 181.99,902.00 188.04,902.00 L265.44,902.00 C271.49,902.00 276.44,900.70 276.44,896.80" fill="none" stroke="#000" stroke-width="1.5"/>
<text x="224.94" y="913.40" font-size="9.7" font-weight="bold" stroke="#000" stroke-width="0.38" text-anchor="middle" textLength="87.00" lengthAdjust="spacingAndGlyphs">CD4+ CCR5+ T cells</text>
<text x="305.31" y="875.40" font-size="9.7" font-weight="bold" stroke="#000" stroke-width="0.38" text-anchor="middle" textLength="16.70" lengthAdjust="spacingAndGlyphs">HIV</text>
<text x="325.03" y="875.40" font-size="9.7" font-weight="bold" stroke="#000" stroke-width="0.38" text-anchor="middle" textLength="11.80" lengthAdjust="spacingAndGlyphs">20</text>
<text x="344.75" y="875.40" font-size="9.7" font-weight="bold" stroke="#000" stroke-width="0.38" text-anchor="middle" textLength="11.90" lengthAdjust="spacingAndGlyphs">80</text>
<text x="364.46" y="875.40" font-size="9.7" font-weight="bold" stroke="#000" stroke-width="0.38" text-anchor="middle" textLength="16.60" lengthAdjust="spacingAndGlyphs">120</text>
<text x="384.78" y="875.40" font-size="9.7" font-weight="bold" stroke="#000" stroke-width="0.38" text-anchor="middle" textLength="22.00" lengthAdjust="spacingAndGlyphs">CTRL</text>
<path d="M313.63,875.60 C313.63,880.10 317.23,881.60 321.63,881.60 L365.56,881.60 C369.96,881.60 373.56,880.10 373.56,875.60" fill="none" stroke="#000" stroke-width="1.5"/>
<text x="343.15" y="893.40" font-size="9.7" font-weight="bold" stroke="#000" stroke-width="0.38" text-anchor="middle" textLength="38.80" lengthAdjust="spacingAndGlyphs"><tspan font-weight="normal" font-size="12">β</tspan>CD HIV</text>
<path d="M295.35,896.80 C295.35,900.70 300.30,902.00 306.35,902.00 L383.75,902.00 C389.80,902.00 394.75,900.70 394.75,896.80" fill="none" stroke="#000" stroke-width="1.5"/>
<text x="343.25" y="913.40" font-size="9.7" font-weight="bold" stroke="#000" stroke-width="0.38" text-anchor="middle" textLength="87.00" lengthAdjust="spacingAndGlyphs">CD4- CCR5- T cells</text>
<text x="424.11" y="875.40" font-size="9.7" font-weight="bold" stroke="#000" stroke-width="0.38" text-anchor="middle" textLength="16.70" lengthAdjust="spacingAndGlyphs">HIV</text>
<text x="443.83" y="875.40" font-size="9.7" font-weight="bold" stroke="#000" stroke-width="0.38" text-anchor="middle" textLength="11.80" lengthAdjust="spacingAndGlyphs">20</text>
<text x="463.55" y="875.40" font-size="9.7" font-weight="bold" stroke="#000" stroke-width="0.38" text-anchor="middle" textLength="11.90" lengthAdjust="spacingAndGlyphs">80</text>
<text x="483.27" y="875.40" font-size="9.7" font-weight="bold" stroke="#000" stroke-width="0.38" text-anchor="middle" textLength="16.60" lengthAdjust="spacingAndGlyphs">120</text>
<text x="503.58" y="875.40" font-size="9.7" font-weight="bold" stroke="#000" stroke-width="0.38" text-anchor="middle" textLength="22.00" lengthAdjust="spacingAndGlyphs">CTRL</text>
<path d="M431.93,875.60 C431.93,880.10 435.53,881.60 439.93,881.60 L483.87,881.60 C488.27,881.60 491.87,880.10 491.87,875.60" fill="none" stroke="#000" stroke-width="1.5"/>
<text x="461.45" y="893.40" font-size="9.7" font-weight="bold" stroke="#000" stroke-width="0.38" text-anchor="middle" textLength="38.80" lengthAdjust="spacingAndGlyphs"><tspan font-weight="normal" font-size="12">β</tspan>CD HIV</text>
<path d="M413.65,896.80 C413.65,900.70 418.60,902.00 424.65,902.00 L502.05,902.00 C508.10,902.00 513.05,900.70 513.05,896.80" fill="none" stroke="#000" stroke-width="1.5"/>
<text x="461.55" y="913.40" font-size="9.7" font-weight="bold" stroke="#000" stroke-width="0.38" text-anchor="middle" textLength="87.00" lengthAdjust="spacingAndGlyphs">CD4- CCR5+ T cells</text>
</g>
</g>
</svg>
</body></html>
